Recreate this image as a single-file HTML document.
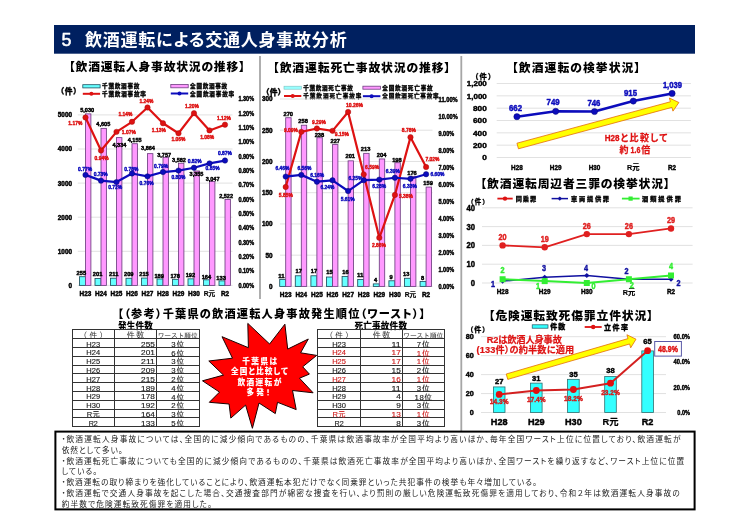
<!DOCTYPE html>
<html lang="ja"><head><meta charset="utf-8"><title>飲酒運転による交通人身事故分析</title>
<style>html,body{margin:0;padding:0;background:#fff;}body{width:750px;height:530px;overflow:hidden;}svg{display:block;}</style>
</head><body>
<svg width="750" height="530" viewBox="0 0 750 530">
<rect x="0" y="0" width="750" height="530" fill="#fff"/>
<rect x="54.00" y="25.00" width="641.00" height="28.70" fill="#002060" stroke="none" stroke-width="0"/>
<text x="61.40" y="46.01" font-size="17.9" fill="#fff" text-anchor="start" font-weight="normal" font-family="'Liberation Sans',sans-serif" stroke="#fff" stroke-width="0.45" stroke-linejoin="round">5</text>
<text x="85.05" y="45.86" font-size="17.0" fill="#fff" text-anchor="start" font-weight="bold" font-family="'Liberation Sans','Noto Sans CJK JP',sans-serif" textLength="261.58" lengthAdjust="spacing" style="font-feature-settings:'palt'">飲酒運転による交通人身事故分析</text>
<line x1="260.00" y1="56.00" x2="260.00" y2="299.00" stroke="#a6a6a6" stroke-width="1.8"/>
<line x1="461.30" y1="56.00" x2="461.30" y2="431.00" stroke="#a6a6a6" stroke-width="1.8"/>
<text x="68.88" y="71.18" font-size="11.8" fill="#000" text-anchor="start" font-weight="900" font-family="'Liberation Sans','Noto Sans CJK JP',sans-serif" textLength="176.07" lengthAdjust="spacing" style="font-feature-settings:'palt'">【飲酒運転人身事故状況の推移】</text>
<rect x="82.80" y="84.70" width="17.30" height="3.20" fill="#66ffff" stroke="#1f4f5f" stroke-width="0.8"/>
<text x="102.02" y="88.43" font-size="5.6" fill="#000" text-anchor="start" font-weight="900" font-family="'Liberation Sans','Noto Sans CJK JP',sans-serif" textLength="37.42" lengthAdjust="spacing" stroke="#000" stroke-width="0.3" stroke-linejoin="round" style="font-feature-settings:'palt'">千葉飲酒事故</text>
<line x1="82.80" y1="93.80" x2="100.10" y2="93.80" stroke="#de1212" stroke-width="2"/>
<circle cx="91.40" cy="93.80" r="2" fill="#de1212"/>
<text x="102.02" y="95.93" font-size="5.6" fill="#000" text-anchor="start" font-weight="900" font-family="'Liberation Sans','Noto Sans CJK JP',sans-serif" textLength="43.92" lengthAdjust="spacing" stroke="#000" stroke-width="0.3" stroke-linejoin="round" style="font-feature-settings:'palt'">千葉飲酒事故率</text>
<rect x="170.80" y="84.50" width="17.40" height="3.30" fill="#ff99ff" stroke="#6e3f80" stroke-width="0.8"/>
<text x="190.12" y="88.43" font-size="5.6" fill="#000" text-anchor="start" font-weight="900" font-family="'Liberation Sans','Noto Sans CJK JP',sans-serif" textLength="37.02" lengthAdjust="spacing" stroke="#000" stroke-width="0.3" stroke-linejoin="round" style="font-feature-settings:'palt'">全国飲酒事故</text>
<line x1="170.80" y1="93.50" x2="188.20" y2="93.50" stroke="#0c0cbc" stroke-width="2"/>
<circle cx="179.50" cy="93.50" r="2" fill="#0c0cbc"/>
<text x="190.12" y="95.63" font-size="5.6" fill="#000" text-anchor="start" font-weight="900" font-family="'Liberation Sans','Noto Sans CJK JP',sans-serif" textLength="44.02" lengthAdjust="spacing" stroke="#000" stroke-width="0.3" stroke-linejoin="round" style="font-feature-settings:'palt'">全国飲酒事故率</text>
<text x="60.00" y="93.76" font-size="7.8" fill="#000" text-anchor="start" font-weight="900" font-family="'Liberation Sans','Noto Sans CJK JP',sans-serif" textLength="17.29" lengthAdjust="spacing" stroke="#000" stroke-width="0.3" stroke-linejoin="round" style="font-feature-settings:'palt'">（件）</text>
<line x1="77.80" y1="285.40" x2="232.50" y2="285.40" stroke="#d9d9d9" stroke-width="0.8"/>
<text x="72.00" y="287.80" font-size="6.7" fill="#000" text-anchor="end" font-weight="bold" font-family="'Liberation Sans',sans-serif" textLength="3.55" lengthAdjust="spacingAndGlyphs" stroke="#000" stroke-width="0.45" stroke-linejoin="round">0</text>
<line x1="77.80" y1="251.30" x2="232.50" y2="251.30" stroke="#d9d9d9" stroke-width="0.8"/>
<text x="72.00" y="253.70" font-size="6.7" fill="#000" text-anchor="end" font-weight="bold" font-family="'Liberation Sans',sans-serif" textLength="14.20" lengthAdjust="spacingAndGlyphs" stroke="#000" stroke-width="0.45" stroke-linejoin="round">1000</text>
<line x1="77.80" y1="217.20" x2="232.50" y2="217.20" stroke="#d9d9d9" stroke-width="0.8"/>
<text x="72.00" y="219.60" font-size="6.7" fill="#000" text-anchor="end" font-weight="bold" font-family="'Liberation Sans',sans-serif" textLength="14.20" lengthAdjust="spacingAndGlyphs" stroke="#000" stroke-width="0.45" stroke-linejoin="round">2000</text>
<line x1="77.80" y1="183.10" x2="232.50" y2="183.10" stroke="#d9d9d9" stroke-width="0.8"/>
<text x="72.00" y="185.50" font-size="6.7" fill="#000" text-anchor="end" font-weight="bold" font-family="'Liberation Sans',sans-serif" textLength="14.20" lengthAdjust="spacingAndGlyphs" stroke="#000" stroke-width="0.45" stroke-linejoin="round">3000</text>
<line x1="77.80" y1="149.00" x2="232.50" y2="149.00" stroke="#d9d9d9" stroke-width="0.8"/>
<text x="72.00" y="151.40" font-size="6.7" fill="#000" text-anchor="end" font-weight="bold" font-family="'Liberation Sans',sans-serif" textLength="14.20" lengthAdjust="spacingAndGlyphs" stroke="#000" stroke-width="0.45" stroke-linejoin="round">4000</text>
<line x1="77.80" y1="114.90" x2="232.50" y2="114.90" stroke="#d9d9d9" stroke-width="0.8"/>
<text x="72.00" y="117.30" font-size="6.7" fill="#000" text-anchor="end" font-weight="bold" font-family="'Liberation Sans',sans-serif" textLength="14.20" lengthAdjust="spacingAndGlyphs" stroke="#000" stroke-width="0.45" stroke-linejoin="round">5000</text>
<text x="238.40" y="287.80" font-size="6.7" fill="#000" text-anchor="start" font-weight="bold" font-family="'Liberation Sans',sans-serif" textLength="15.68" lengthAdjust="spacingAndGlyphs" stroke="#000" stroke-width="0.45" stroke-linejoin="round">0.00%</text>
<text x="238.40" y="273.45" font-size="6.7" fill="#000" text-anchor="start" font-weight="bold" font-family="'Liberation Sans',sans-serif" textLength="15.68" lengthAdjust="spacingAndGlyphs" stroke="#000" stroke-width="0.45" stroke-linejoin="round">0.10%</text>
<text x="238.40" y="259.10" font-size="6.7" fill="#000" text-anchor="start" font-weight="bold" font-family="'Liberation Sans',sans-serif" textLength="15.68" lengthAdjust="spacingAndGlyphs" stroke="#000" stroke-width="0.45" stroke-linejoin="round">0.20%</text>
<text x="238.40" y="244.75" font-size="6.7" fill="#000" text-anchor="start" font-weight="bold" font-family="'Liberation Sans',sans-serif" textLength="15.68" lengthAdjust="spacingAndGlyphs" stroke="#000" stroke-width="0.45" stroke-linejoin="round">0.30%</text>
<text x="238.40" y="230.40" font-size="6.7" fill="#000" text-anchor="start" font-weight="bold" font-family="'Liberation Sans',sans-serif" textLength="15.68" lengthAdjust="spacingAndGlyphs" stroke="#000" stroke-width="0.45" stroke-linejoin="round">0.40%</text>
<text x="238.40" y="216.05" font-size="6.7" fill="#000" text-anchor="start" font-weight="bold" font-family="'Liberation Sans',sans-serif" textLength="15.68" lengthAdjust="spacingAndGlyphs" stroke="#000" stroke-width="0.45" stroke-linejoin="round">0.50%</text>
<text x="238.40" y="201.70" font-size="6.7" fill="#000" text-anchor="start" font-weight="bold" font-family="'Liberation Sans',sans-serif" textLength="15.68" lengthAdjust="spacingAndGlyphs" stroke="#000" stroke-width="0.45" stroke-linejoin="round">0.60%</text>
<text x="238.40" y="187.35" font-size="6.7" fill="#000" text-anchor="start" font-weight="bold" font-family="'Liberation Sans',sans-serif" textLength="15.68" lengthAdjust="spacingAndGlyphs" stroke="#000" stroke-width="0.45" stroke-linejoin="round">0.70%</text>
<text x="238.40" y="173.00" font-size="6.7" fill="#000" text-anchor="start" font-weight="bold" font-family="'Liberation Sans',sans-serif" textLength="15.68" lengthAdjust="spacingAndGlyphs" stroke="#000" stroke-width="0.45" stroke-linejoin="round">0.80%</text>
<text x="238.40" y="158.65" font-size="6.7" fill="#000" text-anchor="start" font-weight="bold" font-family="'Liberation Sans',sans-serif" textLength="15.68" lengthAdjust="spacingAndGlyphs" stroke="#000" stroke-width="0.45" stroke-linejoin="round">0.90%</text>
<text x="238.40" y="144.30" font-size="6.7" fill="#000" text-anchor="start" font-weight="bold" font-family="'Liberation Sans',sans-serif" textLength="15.68" lengthAdjust="spacingAndGlyphs" stroke="#000" stroke-width="0.45" stroke-linejoin="round">1.00%</text>
<text x="238.40" y="129.95" font-size="6.7" fill="#000" text-anchor="start" font-weight="bold" font-family="'Liberation Sans',sans-serif" textLength="15.68" lengthAdjust="spacingAndGlyphs" stroke="#000" stroke-width="0.45" stroke-linejoin="round">1.10%</text>
<text x="238.40" y="115.60" font-size="6.7" fill="#000" text-anchor="start" font-weight="bold" font-family="'Liberation Sans',sans-serif" textLength="15.68" lengthAdjust="spacingAndGlyphs" stroke="#000" stroke-width="0.45" stroke-linejoin="round">1.20%</text>
<text x="238.40" y="101.25" font-size="6.7" fill="#000" text-anchor="start" font-weight="bold" font-family="'Liberation Sans',sans-serif" textLength="15.68" lengthAdjust="spacingAndGlyphs" stroke="#000" stroke-width="0.45" stroke-linejoin="round">1.30%</text>
<rect x="79.50" y="276.70" width="6.00" height="8.70" fill="#66ffff" stroke="#1f4f5f" stroke-width="0.85"/>
<rect x="85.50" y="113.88" width="5.40" height="171.52" fill="#ff99ff" stroke="#6e3f80" stroke-width="0.85"/>
<text x="85.50" y="296.00" font-size="6.7" fill="#000" text-anchor="middle" font-weight="bold" font-family="'Liberation Sans',sans-serif" textLength="11.79" lengthAdjust="spacingAndGlyphs" stroke="#000" stroke-width="0.45" stroke-linejoin="round">H23</text>
<rect x="95.00" y="278.55" width="6.00" height="6.85" fill="#66ffff" stroke="#1f4f5f" stroke-width="0.85"/>
<rect x="101.00" y="128.37" width="5.40" height="157.03" fill="#ff99ff" stroke="#6e3f80" stroke-width="0.85"/>
<text x="101.00" y="296.00" font-size="6.7" fill="#000" text-anchor="middle" font-weight="bold" font-family="'Liberation Sans',sans-serif" textLength="11.79" lengthAdjust="spacingAndGlyphs" stroke="#000" stroke-width="0.45" stroke-linejoin="round">H24</text>
<rect x="110.50" y="278.20" width="6.00" height="7.20" fill="#66ffff" stroke="#1f4f5f" stroke-width="0.85"/>
<rect x="116.50" y="137.61" width="5.40" height="147.79" fill="#ff99ff" stroke="#6e3f80" stroke-width="0.85"/>
<text x="116.50" y="296.00" font-size="6.7" fill="#000" text-anchor="middle" font-weight="bold" font-family="'Liberation Sans',sans-serif" textLength="11.79" lengthAdjust="spacingAndGlyphs" stroke="#000" stroke-width="0.45" stroke-linejoin="round">H25</text>
<rect x="126.00" y="278.27" width="6.00" height="7.13" fill="#66ffff" stroke="#1f4f5f" stroke-width="0.85"/>
<rect x="132.00" y="143.71" width="5.40" height="141.69" fill="#ff99ff" stroke="#6e3f80" stroke-width="0.85"/>
<text x="132.00" y="296.00" font-size="6.7" fill="#000" text-anchor="middle" font-weight="bold" font-family="'Liberation Sans',sans-serif" textLength="11.79" lengthAdjust="spacingAndGlyphs" stroke="#000" stroke-width="0.45" stroke-linejoin="round">H26</text>
<rect x="141.50" y="278.07" width="6.00" height="7.33" fill="#66ffff" stroke="#1f4f5f" stroke-width="0.85"/>
<rect x="147.50" y="153.64" width="5.40" height="131.76" fill="#ff99ff" stroke="#6e3f80" stroke-width="0.85"/>
<text x="147.50" y="296.00" font-size="6.7" fill="#000" text-anchor="middle" font-weight="bold" font-family="'Liberation Sans',sans-serif" textLength="11.79" lengthAdjust="spacingAndGlyphs" stroke="#000" stroke-width="0.45" stroke-linejoin="round">H27</text>
<rect x="157.00" y="278.96" width="6.00" height="6.44" fill="#66ffff" stroke="#1f4f5f" stroke-width="0.85"/>
<rect x="163.00" y="157.29" width="5.40" height="128.11" fill="#ff99ff" stroke="#6e3f80" stroke-width="0.85"/>
<text x="163.00" y="296.00" font-size="6.7" fill="#000" text-anchor="middle" font-weight="bold" font-family="'Liberation Sans',sans-serif" textLength="11.79" lengthAdjust="spacingAndGlyphs" stroke="#000" stroke-width="0.45" stroke-linejoin="round">H28</text>
<rect x="172.50" y="279.33" width="6.00" height="6.07" fill="#66ffff" stroke="#1f4f5f" stroke-width="0.85"/>
<rect x="178.50" y="163.25" width="5.40" height="122.15" fill="#ff99ff" stroke="#6e3f80" stroke-width="0.85"/>
<text x="178.50" y="296.00" font-size="6.7" fill="#000" text-anchor="middle" font-weight="bold" font-family="'Liberation Sans',sans-serif" textLength="11.79" lengthAdjust="spacingAndGlyphs" stroke="#000" stroke-width="0.45" stroke-linejoin="round">H29</text>
<rect x="188.00" y="278.85" width="6.00" height="6.55" fill="#66ffff" stroke="#1f4f5f" stroke-width="0.85"/>
<rect x="194.00" y="170.99" width="5.40" height="114.41" fill="#ff99ff" stroke="#6e3f80" stroke-width="0.85"/>
<text x="194.00" y="296.00" font-size="6.7" fill="#000" text-anchor="middle" font-weight="bold" font-family="'Liberation Sans',sans-serif" textLength="11.79" lengthAdjust="spacingAndGlyphs" stroke="#000" stroke-width="0.45" stroke-linejoin="round">H30</text>
<rect x="203.50" y="279.81" width="6.00" height="5.59" fill="#66ffff" stroke="#1f4f5f" stroke-width="0.85"/>
<rect x="209.50" y="181.50" width="5.40" height="103.90" fill="#ff99ff" stroke="#6e3f80" stroke-width="0.85"/>
<text x="209.50" y="296.15" font-size="6.7" fill="#000" text-anchor="middle" font-weight="bold" font-family="'Liberation Sans','Noto Sans CJK JP',sans-serif" textLength="11.50" lengthAdjust="spacingAndGlyphs" stroke="#000" stroke-width="0.2" stroke-linejoin="round">R元</text>
<rect x="219.00" y="280.86" width="6.00" height="4.54" fill="#66ffff" stroke="#1f4f5f" stroke-width="0.85"/>
<rect x="225.00" y="199.40" width="5.40" height="86.00" fill="#ff99ff" stroke="#6e3f80" stroke-width="0.85"/>
<text x="225.00" y="296.00" font-size="6.7" fill="#000" text-anchor="middle" font-weight="bold" font-family="'Liberation Sans',sans-serif" textLength="8.24" lengthAdjust="spacingAndGlyphs" stroke="#000" stroke-width="0.45" stroke-linejoin="round">R2</text>
<text x="81.35" y="275.15" font-size="6.0" fill="#000" text-anchor="middle" font-weight="bold" font-family="'Liberation Sans',sans-serif" textLength="9.54" lengthAdjust="spacingAndGlyphs" stroke="#000" stroke-width="0.45" stroke-linejoin="round">255</text>
<text x="97.60" y="276.15" font-size="6.0" fill="#000" text-anchor="middle" font-weight="bold" font-family="'Liberation Sans',sans-serif" textLength="9.54" lengthAdjust="spacingAndGlyphs" stroke="#000" stroke-width="0.45" stroke-linejoin="round">201</text>
<text x="113.70" y="276.15" font-size="6.0" fill="#000" text-anchor="middle" font-weight="bold" font-family="'Liberation Sans',sans-serif" textLength="9.54" lengthAdjust="spacingAndGlyphs" stroke="#000" stroke-width="0.45" stroke-linejoin="round">211</text>
<text x="128.80" y="276.15" font-size="6.0" fill="#000" text-anchor="middle" font-weight="bold" font-family="'Liberation Sans',sans-serif" textLength="9.54" lengthAdjust="spacingAndGlyphs" stroke="#000" stroke-width="0.45" stroke-linejoin="round">209</text>
<text x="144.00" y="276.15" font-size="6.0" fill="#000" text-anchor="middle" font-weight="bold" font-family="'Liberation Sans',sans-serif" textLength="9.54" lengthAdjust="spacingAndGlyphs" stroke="#000" stroke-width="0.45" stroke-linejoin="round">215</text>
<text x="159.20" y="277.75" font-size="6.0" fill="#000" text-anchor="middle" font-weight="bold" font-family="'Liberation Sans',sans-serif" textLength="9.54" lengthAdjust="spacingAndGlyphs" stroke="#000" stroke-width="0.45" stroke-linejoin="round">189</text>
<text x="175.20" y="278.15" font-size="6.0" fill="#000" text-anchor="middle" font-weight="bold" font-family="'Liberation Sans',sans-serif" textLength="9.54" lengthAdjust="spacingAndGlyphs" stroke="#000" stroke-width="0.45" stroke-linejoin="round">178</text>
<text x="190.40" y="276.65" font-size="6.0" fill="#000" text-anchor="middle" font-weight="bold" font-family="'Liberation Sans',sans-serif" textLength="9.54" lengthAdjust="spacingAndGlyphs" stroke="#000" stroke-width="0.45" stroke-linejoin="round">192</text>
<text x="206.40" y="279.15" font-size="6.0" fill="#000" text-anchor="middle" font-weight="bold" font-family="'Liberation Sans',sans-serif" textLength="9.54" lengthAdjust="spacingAndGlyphs" stroke="#000" stroke-width="0.45" stroke-linejoin="round">164</text>
<text x="221.10" y="280.15" font-size="6.0" fill="#000" text-anchor="middle" font-weight="bold" font-family="'Liberation Sans',sans-serif" textLength="9.54" lengthAdjust="spacingAndGlyphs" stroke="#000" stroke-width="0.45" stroke-linejoin="round">133</text>
<polyline points="85.50,117.50 101.00,150.51 116.50,131.85 132.00,121.81 147.50,107.46 163.00,123.25 178.50,133.29 194.00,113.20 209.50,130.42 225.00,124.68" fill="none" stroke="#de1212" stroke-width="2.2" stroke-linejoin="round"/>
<circle cx="85.50" cy="117.50" r="2.7" fill="#de1212" stroke="#a00c0c" stroke-width="0.45"/>
<circle cx="101.00" cy="150.51" r="2.7" fill="#de1212" stroke="#a00c0c" stroke-width="0.45"/>
<circle cx="116.50" cy="131.85" r="2.7" fill="#de1212" stroke="#a00c0c" stroke-width="0.45"/>
<circle cx="132.00" cy="121.81" r="2.7" fill="#de1212" stroke="#a00c0c" stroke-width="0.45"/>
<circle cx="147.50" cy="107.46" r="2.7" fill="#de1212" stroke="#a00c0c" stroke-width="0.45"/>
<circle cx="163.00" cy="123.25" r="2.7" fill="#de1212" stroke="#a00c0c" stroke-width="0.45"/>
<circle cx="178.50" cy="133.29" r="2.7" fill="#de1212" stroke="#a00c0c" stroke-width="0.45"/>
<circle cx="194.00" cy="113.20" r="2.7" fill="#de1212" stroke="#a00c0c" stroke-width="0.45"/>
<circle cx="209.50" cy="130.42" r="2.7" fill="#de1212" stroke="#a00c0c" stroke-width="0.45"/>
<circle cx="225.00" cy="124.68" r="2.7" fill="#de1212" stroke="#a00c0c" stroke-width="0.45"/>
<polyline points="85.50,174.90 101.00,180.64 116.50,182.08 132.00,173.47 147.50,176.34 163.00,172.03 178.50,170.60 194.00,167.73 209.50,163.42 225.00,160.55" fill="none" stroke="#0c0cbc" stroke-width="2.2" stroke-linejoin="round"/>
<circle cx="85.50" cy="174.90" r="2.7" fill="#0c0cbc" stroke="#06066e" stroke-width="0.45"/>
<circle cx="101.00" cy="180.64" r="2.7" fill="#0c0cbc" stroke="#06066e" stroke-width="0.45"/>
<circle cx="116.50" cy="182.08" r="2.7" fill="#0c0cbc" stroke="#06066e" stroke-width="0.45"/>
<circle cx="132.00" cy="173.47" r="2.7" fill="#0c0cbc" stroke="#06066e" stroke-width="0.45"/>
<circle cx="147.50" cy="176.34" r="2.7" fill="#0c0cbc" stroke="#06066e" stroke-width="0.45"/>
<circle cx="163.00" cy="172.03" r="2.7" fill="#0c0cbc" stroke="#06066e" stroke-width="0.45"/>
<circle cx="178.50" cy="170.60" r="2.7" fill="#0c0cbc" stroke="#06066e" stroke-width="0.45"/>
<circle cx="194.00" cy="167.73" r="2.7" fill="#0c0cbc" stroke="#06066e" stroke-width="0.45"/>
<circle cx="209.50" cy="163.42" r="2.7" fill="#0c0cbc" stroke="#06066e" stroke-width="0.45"/>
<circle cx="225.00" cy="160.55" r="2.7" fill="#0c0cbc" stroke="#06066e" stroke-width="0.45"/>
<text x="87.20" y="112.35" font-size="6.0" fill="#000" text-anchor="middle" font-weight="bold" font-family="'Liberation Sans',sans-serif" textLength="13.92" lengthAdjust="spacingAndGlyphs" stroke="#000" stroke-width="0.45" stroke-linejoin="round">5,030</text>
<text x="103.30" y="125.95" font-size="6.0" fill="#000" text-anchor="middle" font-weight="bold" font-family="'Liberation Sans',sans-serif" textLength="13.92" lengthAdjust="spacingAndGlyphs" stroke="#000" stroke-width="0.45" stroke-linejoin="round">4,605</text>
<text x="119.40" y="147.15" font-size="6.0" fill="#000" text-anchor="middle" font-weight="bold" font-family="'Liberation Sans',sans-serif" textLength="13.92" lengthAdjust="spacingAndGlyphs" stroke="#000" stroke-width="0.45" stroke-linejoin="round">4,334</text>
<text x="134.70" y="141.55" font-size="6.0" fill="#000" text-anchor="middle" font-weight="bold" font-family="'Liberation Sans',sans-serif" textLength="13.92" lengthAdjust="spacingAndGlyphs" stroke="#000" stroke-width="0.45" stroke-linejoin="round">4,155</text>
<text x="148.00" y="150.35" font-size="6.0" fill="#000" text-anchor="middle" font-weight="bold" font-family="'Liberation Sans',sans-serif" textLength="13.92" lengthAdjust="spacingAndGlyphs" stroke="#000" stroke-width="0.45" stroke-linejoin="round">3,864</text>
<text x="164.20" y="157.15" font-size="6.0" fill="#000" text-anchor="middle" font-weight="bold" font-family="'Liberation Sans',sans-serif" textLength="13.92" lengthAdjust="spacingAndGlyphs" stroke="#000" stroke-width="0.45" stroke-linejoin="round">3,757</text>
<text x="179.00" y="162.05" font-size="6.0" fill="#000" text-anchor="middle" font-weight="bold" font-family="'Liberation Sans',sans-serif" textLength="13.92" lengthAdjust="spacingAndGlyphs" stroke="#000" stroke-width="0.45" stroke-linejoin="round">3,582</text>
<text x="196.50" y="176.05" font-size="6.0" fill="#000" text-anchor="middle" font-weight="bold" font-family="'Liberation Sans',sans-serif" textLength="13.92" lengthAdjust="spacingAndGlyphs" stroke="#000" stroke-width="0.45" stroke-linejoin="round">3,355</text>
<text x="212.60" y="181.35" font-size="6.0" fill="#000" text-anchor="middle" font-weight="bold" font-family="'Liberation Sans',sans-serif" textLength="13.92" lengthAdjust="spacingAndGlyphs" stroke="#000" stroke-width="0.45" stroke-linejoin="round">3,047</text>
<text x="226.10" y="197.95" font-size="6.0" fill="#000" text-anchor="middle" font-weight="bold" font-family="'Liberation Sans',sans-serif" textLength="13.92" lengthAdjust="spacingAndGlyphs" stroke="#000" stroke-width="0.45" stroke-linejoin="round">2,522</text>
<text x="75.30" y="125.05" font-size="6.0" fill="#de1212" text-anchor="middle" font-weight="bold" font-family="'Liberation Sans',sans-serif" textLength="14.04" lengthAdjust="spacingAndGlyphs" stroke="#de1212" stroke-width="0.45" stroke-linejoin="round">1.17%</text>
<text x="101.60" y="159.85" font-size="6.0" fill="#de1212" text-anchor="middle" font-weight="bold" font-family="'Liberation Sans',sans-serif" textLength="14.04" lengthAdjust="spacingAndGlyphs" stroke="#de1212" stroke-width="0.45" stroke-linejoin="round">0.94%</text>
<text x="128.80" y="133.85" font-size="6.0" fill="#de1212" text-anchor="middle" font-weight="bold" font-family="'Liberation Sans',sans-serif" textLength="14.04" lengthAdjust="spacingAndGlyphs" stroke="#de1212" stroke-width="0.45" stroke-linejoin="round">1.07%</text>
<text x="125.40" y="115.75" font-size="6.0" fill="#de1212" text-anchor="middle" font-weight="bold" font-family="'Liberation Sans',sans-serif" textLength="14.04" lengthAdjust="spacingAndGlyphs" stroke="#de1212" stroke-width="0.45" stroke-linejoin="round">1.14%</text>
<text x="146.50" y="103.45" font-size="6.0" fill="#de1212" text-anchor="middle" font-weight="bold" font-family="'Liberation Sans',sans-serif" textLength="14.04" lengthAdjust="spacingAndGlyphs" stroke="#de1212" stroke-width="0.45" stroke-linejoin="round">1.24%</text>
<text x="158.80" y="131.55" font-size="6.0" fill="#de1212" text-anchor="middle" font-weight="bold" font-family="'Liberation Sans',sans-serif" textLength="14.04" lengthAdjust="spacingAndGlyphs" stroke="#de1212" stroke-width="0.45" stroke-linejoin="round">1.13%</text>
<text x="178.50" y="141.05" font-size="6.0" fill="#de1212" text-anchor="middle" font-weight="bold" font-family="'Liberation Sans',sans-serif" textLength="14.04" lengthAdjust="spacingAndGlyphs" stroke="#de1212" stroke-width="0.45" stroke-linejoin="round">1.06%</text>
<text x="192.00" y="107.55" font-size="6.0" fill="#de1212" text-anchor="middle" font-weight="bold" font-family="'Liberation Sans',sans-serif" textLength="14.04" lengthAdjust="spacingAndGlyphs" stroke="#de1212" stroke-width="0.45" stroke-linejoin="round">1.20%</text>
<text x="207.20" y="138.95" font-size="6.0" fill="#de1212" text-anchor="middle" font-weight="bold" font-family="'Liberation Sans',sans-serif" textLength="14.04" lengthAdjust="spacingAndGlyphs" stroke="#de1212" stroke-width="0.45" stroke-linejoin="round">1.08%</text>
<text x="223.90" y="119.55" font-size="6.0" fill="#de1212" text-anchor="middle" font-weight="bold" font-family="'Liberation Sans',sans-serif" textLength="14.04" lengthAdjust="spacingAndGlyphs" stroke="#de1212" stroke-width="0.45" stroke-linejoin="round">1.12%</text>
<text x="85.10" y="170.95" font-size="6.0" fill="#0c0cbc" text-anchor="middle" font-weight="bold" font-family="'Liberation Sans',sans-serif" textLength="14.04" lengthAdjust="spacingAndGlyphs" stroke="#0c0cbc" stroke-width="0.45" stroke-linejoin="round">0.77%</text>
<text x="100.70" y="176.05" font-size="6.0" fill="#0c0cbc" text-anchor="middle" font-weight="bold" font-family="'Liberation Sans',sans-serif" textLength="14.04" lengthAdjust="spacingAndGlyphs" stroke="#0c0cbc" stroke-width="0.45" stroke-linejoin="round">0.73%</text>
<text x="115.20" y="189.05" font-size="6.0" fill="#0c0cbc" text-anchor="middle" font-weight="bold" font-family="'Liberation Sans',sans-serif" textLength="14.04" lengthAdjust="spacingAndGlyphs" stroke="#0c0cbc" stroke-width="0.45" stroke-linejoin="round">0.72%</text>
<text x="131.30" y="170.95" font-size="6.0" fill="#0c0cbc" text-anchor="middle" font-weight="bold" font-family="'Liberation Sans',sans-serif" textLength="14.04" lengthAdjust="spacingAndGlyphs" stroke="#0c0cbc" stroke-width="0.45" stroke-linejoin="round">0.78%</text>
<text x="146.60" y="185.35" font-size="6.0" fill="#0c0cbc" text-anchor="middle" font-weight="bold" font-family="'Liberation Sans',sans-serif" textLength="14.04" lengthAdjust="spacingAndGlyphs" stroke="#0c0cbc" stroke-width="0.45" stroke-linejoin="round">0.76%</text>
<text x="161.10" y="167.55" font-size="6.0" fill="#0c0cbc" text-anchor="middle" font-weight="bold" font-family="'Liberation Sans',sans-serif" textLength="14.04" lengthAdjust="spacingAndGlyphs" stroke="#0c0cbc" stroke-width="0.45" stroke-linejoin="round">0.79%</text>
<text x="178.50" y="178.65" font-size="6.0" fill="#0c0cbc" text-anchor="middle" font-weight="bold" font-family="'Liberation Sans',sans-serif" textLength="14.04" lengthAdjust="spacingAndGlyphs" stroke="#0c0cbc" stroke-width="0.45" stroke-linejoin="round">0.80%</text>
<text x="194.70" y="163.15" font-size="6.0" fill="#0c0cbc" text-anchor="middle" font-weight="bold" font-family="'Liberation Sans',sans-serif" textLength="14.04" lengthAdjust="spacingAndGlyphs" stroke="#0c0cbc" stroke-width="0.45" stroke-linejoin="round">0.82%</text>
<text x="212.60" y="170.25" font-size="6.0" fill="#0c0cbc" text-anchor="middle" font-weight="bold" font-family="'Liberation Sans',sans-serif" textLength="14.04" lengthAdjust="spacingAndGlyphs" stroke="#0c0cbc" stroke-width="0.45" stroke-linejoin="round">0.85%</text>
<text x="225.00" y="155.35" font-size="6.0" fill="#0c0cbc" text-anchor="middle" font-weight="bold" font-family="'Liberation Sans',sans-serif" textLength="14.04" lengthAdjust="spacingAndGlyphs" stroke="#0c0cbc" stroke-width="0.45" stroke-linejoin="round">0.87%</text>
<text x="272.88" y="71.68" font-size="11.8" fill="#000" text-anchor="start" font-weight="900" font-family="'Liberation Sans','Noto Sans CJK JP',sans-serif" textLength="177.37" lengthAdjust="spacing" style="font-feature-settings:'palt'">【飲酒運転死亡事故状況の推移】</text>
<rect x="284.00" y="86.20" width="17.30" height="3.00" fill="#99ffff" stroke="#7fbfbf" stroke-width="0.6"/>
<text x="303.22" y="89.83" font-size="5.6" fill="#000" text-anchor="start" font-weight="900" font-family="'Liberation Sans','Noto Sans CJK JP',sans-serif" textLength="49.62" lengthAdjust="spacing" stroke="#000" stroke-width="0.3" stroke-linejoin="round" style="font-feature-settings:'palt'">千葉飲酒死亡事故</text>
<line x1="284.00" y1="96.00" x2="301.30" y2="96.00" stroke="#de1212" stroke-width="2"/>
<circle cx="292.70" cy="96.00" r="2" fill="#de1212"/>
<text x="303.22" y="98.13" font-size="5.6" fill="#000" text-anchor="start" font-weight="900" font-family="'Liberation Sans','Noto Sans CJK JP',sans-serif" textLength="58.22" lengthAdjust="spacing" stroke="#000" stroke-width="0.3" stroke-linejoin="round" style="font-feature-settings:'palt'">千葉飲酒死亡事故率</text>
<rect x="362.90" y="86.20" width="17.50" height="3.00" fill="#ff99ff" stroke="#6e3f80" stroke-width="0.8"/>
<text x="382.32" y="89.83" font-size="5.6" fill="#000" text-anchor="start" font-weight="900" font-family="'Liberation Sans','Noto Sans CJK JP',sans-serif" textLength="50.32" lengthAdjust="spacing" stroke="#000" stroke-width="0.3" stroke-linejoin="round" style="font-feature-settings:'palt'">全国飲酒死亡事故</text>
<line x1="362.90" y1="96.20" x2="380.40" y2="96.20" stroke="#0c0cbc" stroke-width="2"/>
<circle cx="371.60" cy="96.20" r="2" fill="#0c0cbc"/>
<text x="382.32" y="98.33" font-size="5.6" fill="#000" text-anchor="start" font-weight="900" font-family="'Liberation Sans','Noto Sans CJK JP',sans-serif" textLength="56.32" lengthAdjust="spacing" stroke="#000" stroke-width="0.3" stroke-linejoin="round" style="font-feature-settings:'palt'">全国飲酒死亡事故率</text>
<text x="265.30" y="94.56" font-size="7.8" fill="#000" text-anchor="start" font-weight="900" font-family="'Liberation Sans','Noto Sans CJK JP',sans-serif" textLength="16.49" lengthAdjust="spacing" stroke="#000" stroke-width="0.3" stroke-linejoin="round" style="font-feature-settings:'palt'">（件）</text>
<line x1="280.00" y1="286.40" x2="432.50" y2="286.40" stroke="#d9d9d9" stroke-width="0.8"/>
<text x="272.60" y="288.80" font-size="6.7" fill="#000" text-anchor="end" font-weight="bold" font-family="'Liberation Sans',sans-serif" textLength="3.55" lengthAdjust="spacingAndGlyphs" stroke="#000" stroke-width="0.45" stroke-linejoin="round">0</text>
<line x1="280.00" y1="255.16" x2="432.50" y2="255.16" stroke="#d9d9d9" stroke-width="0.8"/>
<text x="272.60" y="257.56" font-size="6.7" fill="#000" text-anchor="end" font-weight="bold" font-family="'Liberation Sans',sans-serif" textLength="7.10" lengthAdjust="spacingAndGlyphs" stroke="#000" stroke-width="0.45" stroke-linejoin="round">50</text>
<line x1="280.00" y1="223.93" x2="432.50" y2="223.93" stroke="#d9d9d9" stroke-width="0.8"/>
<text x="272.60" y="226.33" font-size="6.7" fill="#000" text-anchor="end" font-weight="bold" font-family="'Liberation Sans',sans-serif" textLength="10.65" lengthAdjust="spacingAndGlyphs" stroke="#000" stroke-width="0.45" stroke-linejoin="round">100</text>
<line x1="280.00" y1="192.69" x2="432.50" y2="192.69" stroke="#d9d9d9" stroke-width="0.8"/>
<text x="272.60" y="195.09" font-size="6.7" fill="#000" text-anchor="end" font-weight="bold" font-family="'Liberation Sans',sans-serif" textLength="10.65" lengthAdjust="spacingAndGlyphs" stroke="#000" stroke-width="0.45" stroke-linejoin="round">150</text>
<line x1="280.00" y1="161.46" x2="432.50" y2="161.46" stroke="#d9d9d9" stroke-width="0.8"/>
<text x="272.60" y="163.86" font-size="6.7" fill="#000" text-anchor="end" font-weight="bold" font-family="'Liberation Sans',sans-serif" textLength="10.65" lengthAdjust="spacingAndGlyphs" stroke="#000" stroke-width="0.45" stroke-linejoin="round">200</text>
<line x1="280.00" y1="130.22" x2="432.50" y2="130.22" stroke="#d9d9d9" stroke-width="0.8"/>
<text x="272.60" y="132.62" font-size="6.7" fill="#000" text-anchor="end" font-weight="bold" font-family="'Liberation Sans',sans-serif" textLength="10.65" lengthAdjust="spacingAndGlyphs" stroke="#000" stroke-width="0.45" stroke-linejoin="round">250</text>
<line x1="280.00" y1="98.99" x2="432.50" y2="98.99" stroke="#d9d9d9" stroke-width="0.8"/>
<text x="272.60" y="101.39" font-size="6.7" fill="#000" text-anchor="end" font-weight="bold" font-family="'Liberation Sans',sans-serif" textLength="10.65" lengthAdjust="spacingAndGlyphs" stroke="#000" stroke-width="0.45" stroke-linejoin="round">300</text>
<text x="438.50" y="288.80" font-size="6.7" fill="#000" text-anchor="start" font-weight="bold" font-family="'Liberation Sans',sans-serif" textLength="15.68" lengthAdjust="spacingAndGlyphs" stroke="#000" stroke-width="0.45" stroke-linejoin="round">0.00%</text>
<text x="438.50" y="271.80" font-size="6.7" fill="#000" text-anchor="start" font-weight="bold" font-family="'Liberation Sans',sans-serif" textLength="15.68" lengthAdjust="spacingAndGlyphs" stroke="#000" stroke-width="0.45" stroke-linejoin="round">1.00%</text>
<text x="438.50" y="254.80" font-size="6.7" fill="#000" text-anchor="start" font-weight="bold" font-family="'Liberation Sans',sans-serif" textLength="15.68" lengthAdjust="spacingAndGlyphs" stroke="#000" stroke-width="0.45" stroke-linejoin="round">2.00%</text>
<text x="438.50" y="237.80" font-size="6.7" fill="#000" text-anchor="start" font-weight="bold" font-family="'Liberation Sans',sans-serif" textLength="15.68" lengthAdjust="spacingAndGlyphs" stroke="#000" stroke-width="0.45" stroke-linejoin="round">3.00%</text>
<text x="438.50" y="220.80" font-size="6.7" fill="#000" text-anchor="start" font-weight="bold" font-family="'Liberation Sans',sans-serif" textLength="15.68" lengthAdjust="spacingAndGlyphs" stroke="#000" stroke-width="0.45" stroke-linejoin="round">4.00%</text>
<text x="438.50" y="203.80" font-size="6.7" fill="#000" text-anchor="start" font-weight="bold" font-family="'Liberation Sans',sans-serif" textLength="15.68" lengthAdjust="spacingAndGlyphs" stroke="#000" stroke-width="0.45" stroke-linejoin="round">5.00%</text>
<text x="438.50" y="186.80" font-size="6.7" fill="#000" text-anchor="start" font-weight="bold" font-family="'Liberation Sans',sans-serif" textLength="15.68" lengthAdjust="spacingAndGlyphs" stroke="#000" stroke-width="0.45" stroke-linejoin="round">6.00%</text>
<text x="438.50" y="169.80" font-size="6.7" fill="#000" text-anchor="start" font-weight="bold" font-family="'Liberation Sans',sans-serif" textLength="15.68" lengthAdjust="spacingAndGlyphs" stroke="#000" stroke-width="0.45" stroke-linejoin="round">7.00%</text>
<text x="438.50" y="152.80" font-size="6.7" fill="#000" text-anchor="start" font-weight="bold" font-family="'Liberation Sans',sans-serif" textLength="15.68" lengthAdjust="spacingAndGlyphs" stroke="#000" stroke-width="0.45" stroke-linejoin="round">8.00%</text>
<text x="438.50" y="135.80" font-size="6.7" fill="#000" text-anchor="start" font-weight="bold" font-family="'Liberation Sans',sans-serif" textLength="15.68" lengthAdjust="spacingAndGlyphs" stroke="#000" stroke-width="0.45" stroke-linejoin="round">9.00%</text>
<text x="438.50" y="118.80" font-size="6.7" fill="#000" text-anchor="start" font-weight="bold" font-family="'Liberation Sans',sans-serif" textLength="19.23" lengthAdjust="spacingAndGlyphs" stroke="#000" stroke-width="0.45" stroke-linejoin="round">10.00%</text>
<text x="438.50" y="101.80" font-size="6.7" fill="#000" text-anchor="start" font-weight="bold" font-family="'Liberation Sans',sans-serif" textLength="19.23" lengthAdjust="spacingAndGlyphs" stroke="#000" stroke-width="0.45" stroke-linejoin="round">11.00%</text>
<rect x="279.70" y="279.53" width="6.00" height="6.87" fill="#66ffff" stroke="#1f4f5f" stroke-width="0.85"/>
<rect x="285.70" y="117.73" width="5.40" height="168.67" fill="#ff99ff" stroke="#6e3f80" stroke-width="0.85"/>
<text x="285.70" y="297.20" font-size="6.7" fill="#000" text-anchor="middle" font-weight="bold" font-family="'Liberation Sans',sans-serif" textLength="11.79" lengthAdjust="spacingAndGlyphs" stroke="#000" stroke-width="0.45" stroke-linejoin="round">H23</text>
<text x="281.50" y="277.55" font-size="6.0" fill="#000" text-anchor="middle" font-weight="bold" font-family="'Liberation Sans',sans-serif" textLength="6.36" lengthAdjust="spacingAndGlyphs" stroke="#000" stroke-width="0.45" stroke-linejoin="round">11</text>
<rect x="295.30" y="275.78" width="6.00" height="10.62" fill="#66ffff" stroke="#1f4f5f" stroke-width="0.85"/>
<rect x="301.30" y="125.23" width="5.40" height="161.17" fill="#ff99ff" stroke="#6e3f80" stroke-width="0.85"/>
<text x="301.30" y="297.20" font-size="6.7" fill="#000" text-anchor="middle" font-weight="bold" font-family="'Liberation Sans',sans-serif" textLength="11.79" lengthAdjust="spacingAndGlyphs" stroke="#000" stroke-width="0.45" stroke-linejoin="round">H24</text>
<text x="298.70" y="273.35" font-size="6.0" fill="#000" text-anchor="middle" font-weight="bold" font-family="'Liberation Sans',sans-serif" textLength="6.36" lengthAdjust="spacingAndGlyphs" stroke="#000" stroke-width="0.45" stroke-linejoin="round">17</text>
<rect x="310.90" y="275.78" width="6.00" height="10.62" fill="#66ffff" stroke="#1f4f5f" stroke-width="0.85"/>
<rect x="316.90" y="137.72" width="5.40" height="148.68" fill="#ff99ff" stroke="#6e3f80" stroke-width="0.85"/>
<text x="316.90" y="297.20" font-size="6.7" fill="#000" text-anchor="middle" font-weight="bold" font-family="'Liberation Sans',sans-serif" textLength="11.79" lengthAdjust="spacingAndGlyphs" stroke="#000" stroke-width="0.45" stroke-linejoin="round">H25</text>
<text x="314.00" y="273.35" font-size="6.0" fill="#000" text-anchor="middle" font-weight="bold" font-family="'Liberation Sans',sans-serif" textLength="6.36" lengthAdjust="spacingAndGlyphs" stroke="#000" stroke-width="0.45" stroke-linejoin="round">17</text>
<rect x="326.50" y="277.03" width="6.00" height="9.37" fill="#66ffff" stroke="#1f4f5f" stroke-width="0.85"/>
<rect x="332.50" y="144.59" width="5.40" height="141.81" fill="#ff99ff" stroke="#6e3f80" stroke-width="0.85"/>
<text x="332.50" y="297.20" font-size="6.7" fill="#000" text-anchor="middle" font-weight="bold" font-family="'Liberation Sans',sans-serif" textLength="11.79" lengthAdjust="spacingAndGlyphs" stroke="#000" stroke-width="0.45" stroke-linejoin="round">H26</text>
<text x="329.50" y="274.15" font-size="6.0" fill="#000" text-anchor="middle" font-weight="bold" font-family="'Liberation Sans',sans-serif" textLength="6.36" lengthAdjust="spacingAndGlyphs" stroke="#000" stroke-width="0.45" stroke-linejoin="round">15</text>
<rect x="342.10" y="276.40" width="6.00" height="10.00" fill="#66ffff" stroke="#1f4f5f" stroke-width="0.85"/>
<rect x="348.10" y="160.84" width="5.40" height="125.56" fill="#ff99ff" stroke="#6e3f80" stroke-width="0.85"/>
<text x="348.10" y="297.20" font-size="6.7" fill="#000" text-anchor="middle" font-weight="bold" font-family="'Liberation Sans',sans-serif" textLength="11.79" lengthAdjust="spacingAndGlyphs" stroke="#000" stroke-width="0.45" stroke-linejoin="round">H27</text>
<text x="345.40" y="274.15" font-size="6.0" fill="#000" text-anchor="middle" font-weight="bold" font-family="'Liberation Sans',sans-serif" textLength="6.36" lengthAdjust="spacingAndGlyphs" stroke="#000" stroke-width="0.45" stroke-linejoin="round">16</text>
<rect x="357.70" y="279.53" width="6.00" height="6.87" fill="#66ffff" stroke="#1f4f5f" stroke-width="0.85"/>
<rect x="363.70" y="153.34" width="5.40" height="133.06" fill="#ff99ff" stroke="#6e3f80" stroke-width="0.85"/>
<text x="363.70" y="297.20" font-size="6.7" fill="#000" text-anchor="middle" font-weight="bold" font-family="'Liberation Sans',sans-serif" textLength="11.79" lengthAdjust="spacingAndGlyphs" stroke="#000" stroke-width="0.45" stroke-linejoin="round">H28</text>
<text x="360.30" y="277.15" font-size="6.0" fill="#000" text-anchor="middle" font-weight="bold" font-family="'Liberation Sans',sans-serif" textLength="6.36" lengthAdjust="spacingAndGlyphs" stroke="#000" stroke-width="0.45" stroke-linejoin="round">11</text>
<rect x="373.30" y="283.90" width="6.00" height="2.50" fill="#66ffff" stroke="#1f4f5f" stroke-width="0.85"/>
<rect x="379.30" y="158.96" width="5.40" height="127.44" fill="#ff99ff" stroke="#6e3f80" stroke-width="0.85"/>
<text x="379.30" y="297.20" font-size="6.7" fill="#000" text-anchor="middle" font-weight="bold" font-family="'Liberation Sans',sans-serif" textLength="11.79" lengthAdjust="spacingAndGlyphs" stroke="#000" stroke-width="0.45" stroke-linejoin="round">H29</text>
<text x="375.70" y="282.35" font-size="6.0" fill="#000" text-anchor="middle" font-weight="bold" font-family="'Liberation Sans',sans-serif" textLength="3.18" lengthAdjust="spacingAndGlyphs" stroke="#000" stroke-width="0.45" stroke-linejoin="round">4</text>
<rect x="388.90" y="280.78" width="6.00" height="5.62" fill="#66ffff" stroke="#1f4f5f" stroke-width="0.85"/>
<rect x="394.90" y="162.71" width="5.40" height="123.69" fill="#ff99ff" stroke="#6e3f80" stroke-width="0.85"/>
<text x="394.90" y="297.20" font-size="6.7" fill="#000" text-anchor="middle" font-weight="bold" font-family="'Liberation Sans',sans-serif" textLength="11.79" lengthAdjust="spacingAndGlyphs" stroke="#000" stroke-width="0.45" stroke-linejoin="round">H30</text>
<text x="391.10" y="278.65" font-size="6.0" fill="#000" text-anchor="middle" font-weight="bold" font-family="'Liberation Sans',sans-serif" textLength="3.18" lengthAdjust="spacingAndGlyphs" stroke="#000" stroke-width="0.45" stroke-linejoin="round">9</text>
<rect x="404.50" y="278.28" width="6.00" height="8.12" fill="#66ffff" stroke="#1f4f5f" stroke-width="0.85"/>
<rect x="410.50" y="176.45" width="5.40" height="109.95" fill="#ff99ff" stroke="#6e3f80" stroke-width="0.85"/>
<text x="410.50" y="297.35" font-size="6.7" fill="#000" text-anchor="middle" font-weight="bold" font-family="'Liberation Sans','Noto Sans CJK JP',sans-serif" textLength="11.50" lengthAdjust="spacingAndGlyphs" stroke="#000" stroke-width="0.2" stroke-linejoin="round">R元</text>
<text x="406.20" y="275.85" font-size="6.0" fill="#000" text-anchor="middle" font-weight="bold" font-family="'Liberation Sans',sans-serif" textLength="6.36" lengthAdjust="spacingAndGlyphs" stroke="#000" stroke-width="0.45" stroke-linejoin="round">13</text>
<rect x="420.10" y="281.40" width="6.00" height="5.00" fill="#66ffff" stroke="#1f4f5f" stroke-width="0.85"/>
<rect x="426.10" y="187.07" width="5.40" height="99.33" fill="#ff99ff" stroke="#6e3f80" stroke-width="0.85"/>
<text x="426.10" y="297.20" font-size="6.7" fill="#000" text-anchor="middle" font-weight="bold" font-family="'Liberation Sans',sans-serif" textLength="8.24" lengthAdjust="spacingAndGlyphs" stroke="#000" stroke-width="0.45" stroke-linejoin="round">R2</text>
<text x="422.50" y="279.65" font-size="6.0" fill="#000" text-anchor="middle" font-weight="bold" font-family="'Liberation Sans',sans-serif" textLength="3.18" lengthAdjust="spacingAndGlyphs" stroke="#000" stroke-width="0.45" stroke-linejoin="round">8</text>
<polyline points="285.70,186.95 301.30,131.87 316.90,128.47 332.50,130.85 348.10,111.98 363.70,174.37 379.30,237.78 394.90,194.94 410.50,137.14 426.10,167.06" fill="none" stroke="#de1212" stroke-width="2.2" stroke-linejoin="round"/>
<circle cx="285.70" cy="186.95" r="2.7" fill="#de1212" stroke="#a00c0c" stroke-width="0.45"/>
<circle cx="301.30" cy="131.87" r="2.7" fill="#de1212" stroke="#a00c0c" stroke-width="0.45"/>
<circle cx="316.90" cy="128.47" r="2.7" fill="#de1212" stroke="#a00c0c" stroke-width="0.45"/>
<circle cx="332.50" cy="130.85" r="2.7" fill="#de1212" stroke="#a00c0c" stroke-width="0.45"/>
<circle cx="348.10" cy="111.98" r="2.7" fill="#de1212" stroke="#a00c0c" stroke-width="0.45"/>
<circle cx="363.70" cy="174.37" r="2.7" fill="#de1212" stroke="#a00c0c" stroke-width="0.45"/>
<circle cx="379.30" cy="237.78" r="2.7" fill="#de1212" stroke="#a00c0c" stroke-width="0.45"/>
<circle cx="394.90" cy="194.94" r="2.7" fill="#de1212" stroke="#a00c0c" stroke-width="0.45"/>
<circle cx="410.50" cy="137.14" r="2.7" fill="#de1212" stroke="#a00c0c" stroke-width="0.45"/>
<circle cx="426.10" cy="167.06" r="2.7" fill="#de1212" stroke="#a00c0c" stroke-width="0.45"/>
<polyline points="285.70,176.58 301.30,174.88 316.90,181.68 332.50,180.32 348.10,191.03 363.70,180.15 379.30,179.64 394.90,177.77 410.50,178.79 426.10,174.20" fill="none" stroke="#0c0cbc" stroke-width="2.2" stroke-linejoin="round"/>
<circle cx="285.70" cy="176.58" r="2.7" fill="#0c0cbc" stroke="#06066e" stroke-width="0.45"/>
<circle cx="301.30" cy="174.88" r="2.7" fill="#0c0cbc" stroke="#06066e" stroke-width="0.45"/>
<circle cx="316.90" cy="181.68" r="2.7" fill="#0c0cbc" stroke="#06066e" stroke-width="0.45"/>
<circle cx="332.50" cy="180.32" r="2.7" fill="#0c0cbc" stroke="#06066e" stroke-width="0.45"/>
<circle cx="348.10" cy="191.03" r="2.7" fill="#0c0cbc" stroke="#06066e" stroke-width="0.45"/>
<circle cx="363.70" cy="180.15" r="2.7" fill="#0c0cbc" stroke="#06066e" stroke-width="0.45"/>
<circle cx="379.30" cy="179.64" r="2.7" fill="#0c0cbc" stroke="#06066e" stroke-width="0.45"/>
<circle cx="394.90" cy="177.77" r="2.7" fill="#0c0cbc" stroke="#06066e" stroke-width="0.45"/>
<circle cx="410.50" cy="178.79" r="2.7" fill="#0c0cbc" stroke="#06066e" stroke-width="0.45"/>
<circle cx="426.10" cy="174.20" r="2.7" fill="#0c0cbc" stroke="#06066e" stroke-width="0.45"/>
<text x="288.30" y="115.85" font-size="6.0" fill="#000" text-anchor="middle" font-weight="bold" font-family="'Liberation Sans',sans-serif" textLength="9.54" lengthAdjust="spacingAndGlyphs" stroke="#000" stroke-width="0.45" stroke-linejoin="round">270</text>
<text x="303.10" y="122.95" font-size="6.0" fill="#000" text-anchor="middle" font-weight="bold" font-family="'Liberation Sans',sans-serif" textLength="9.54" lengthAdjust="spacingAndGlyphs" stroke="#000" stroke-width="0.45" stroke-linejoin="round">258</text>
<text x="319.40" y="136.55" font-size="6.0" fill="#000" text-anchor="middle" font-weight="bold" font-family="'Liberation Sans',sans-serif" textLength="9.54" lengthAdjust="spacingAndGlyphs" stroke="#000" stroke-width="0.45" stroke-linejoin="round">238</text>
<text x="335.30" y="142.55" font-size="6.0" fill="#000" text-anchor="middle" font-weight="bold" font-family="'Liberation Sans',sans-serif" textLength="9.54" lengthAdjust="spacingAndGlyphs" stroke="#000" stroke-width="0.45" stroke-linejoin="round">227</text>
<text x="350.30" y="158.35" font-size="6.0" fill="#000" text-anchor="middle" font-weight="bold" font-family="'Liberation Sans',sans-serif" textLength="9.54" lengthAdjust="spacingAndGlyphs" stroke="#000" stroke-width="0.45" stroke-linejoin="round">201</text>
<text x="365.60" y="151.35" font-size="6.0" fill="#000" text-anchor="middle" font-weight="bold" font-family="'Liberation Sans',sans-serif" textLength="9.54" lengthAdjust="spacingAndGlyphs" stroke="#000" stroke-width="0.45" stroke-linejoin="round">213</text>
<text x="381.60" y="156.95" font-size="6.0" fill="#000" text-anchor="middle" font-weight="bold" font-family="'Liberation Sans',sans-serif" textLength="9.54" lengthAdjust="spacingAndGlyphs" stroke="#000" stroke-width="0.45" stroke-linejoin="round">204</text>
<text x="396.90" y="161.55" font-size="6.0" fill="#000" text-anchor="middle" font-weight="bold" font-family="'Liberation Sans',sans-serif" textLength="9.54" lengthAdjust="spacingAndGlyphs" stroke="#000" stroke-width="0.45" stroke-linejoin="round">198</text>
<text x="412.00" y="175.05" font-size="6.0" fill="#000" text-anchor="middle" font-weight="bold" font-family="'Liberation Sans',sans-serif" textLength="9.54" lengthAdjust="spacingAndGlyphs" stroke="#000" stroke-width="0.45" stroke-linejoin="round">176</text>
<text x="428.10" y="185.25" font-size="6.0" fill="#000" text-anchor="middle" font-weight="bold" font-family="'Liberation Sans',sans-serif" textLength="9.54" lengthAdjust="spacingAndGlyphs" stroke="#000" stroke-width="0.45" stroke-linejoin="round">159</text>
<text x="285.80" y="196.65" font-size="6.0" fill="#de1212" text-anchor="middle" font-weight="bold" font-family="'Liberation Sans',sans-serif" textLength="14.04" lengthAdjust="spacingAndGlyphs" stroke="#de1212" stroke-width="0.45" stroke-linejoin="round">5.85%</text>
<text x="290.90" y="132.35" font-size="6.0" fill="#de1212" text-anchor="middle" font-weight="bold" font-family="'Liberation Sans',sans-serif" textLength="14.04" lengthAdjust="spacingAndGlyphs" stroke="#de1212" stroke-width="0.45" stroke-linejoin="round">9.09%</text>
<text x="318.90" y="124.35" font-size="6.0" fill="#de1212" text-anchor="middle" font-weight="bold" font-family="'Liberation Sans',sans-serif" textLength="14.04" lengthAdjust="spacingAndGlyphs" stroke="#de1212" stroke-width="0.45" stroke-linejoin="round">9.29%</text>
<text x="341.80" y="135.75" font-size="6.0" fill="#de1212" text-anchor="middle" font-weight="bold" font-family="'Liberation Sans',sans-serif" textLength="14.04" lengthAdjust="spacingAndGlyphs" stroke="#de1212" stroke-width="0.45" stroke-linejoin="round">9.15%</text>
<text x="354.50" y="107.35" font-size="6.0" fill="#de1212" text-anchor="middle" font-weight="bold" font-family="'Liberation Sans',sans-serif" textLength="17.22" lengthAdjust="spacingAndGlyphs" stroke="#de1212" stroke-width="0.45" stroke-linejoin="round">10.26%</text>
<text x="372.10" y="169.15" font-size="6.0" fill="#de1212" text-anchor="middle" font-weight="bold" font-family="'Liberation Sans',sans-serif" textLength="14.04" lengthAdjust="spacingAndGlyphs" stroke="#de1212" stroke-width="0.45" stroke-linejoin="round">6.59%</text>
<text x="379.00" y="246.75" font-size="6.0" fill="#de1212" text-anchor="middle" font-weight="bold" font-family="'Liberation Sans',sans-serif" textLength="14.04" lengthAdjust="spacingAndGlyphs" stroke="#de1212" stroke-width="0.45" stroke-linejoin="round">2.86%</text>
<text x="406.00" y="198.35" font-size="6.0" fill="#de1212" text-anchor="middle" font-weight="bold" font-family="'Liberation Sans',sans-serif" textLength="14.04" lengthAdjust="spacingAndGlyphs" stroke="#de1212" stroke-width="0.45" stroke-linejoin="round">5.38%</text>
<text x="408.80" y="132.35" font-size="6.0" fill="#de1212" text-anchor="middle" font-weight="bold" font-family="'Liberation Sans',sans-serif" textLength="14.04" lengthAdjust="spacingAndGlyphs" stroke="#de1212" stroke-width="0.45" stroke-linejoin="round">8.78%</text>
<text x="432.50" y="161.15" font-size="6.0" fill="#de1212" text-anchor="middle" font-weight="bold" font-family="'Liberation Sans',sans-serif" textLength="14.04" lengthAdjust="spacingAndGlyphs" stroke="#de1212" stroke-width="0.45" stroke-linejoin="round">7.02%</text>
<text x="282.40" y="170.45" font-size="6.0" fill="#0c0cbc" text-anchor="middle" font-weight="bold" font-family="'Liberation Sans',sans-serif" textLength="14.04" lengthAdjust="spacingAndGlyphs" stroke="#0c0cbc" stroke-width="0.45" stroke-linejoin="round">6.46%</text>
<text x="304.40" y="170.45" font-size="6.0" fill="#0c0cbc" text-anchor="middle" font-weight="bold" font-family="'Liberation Sans',sans-serif" textLength="14.04" lengthAdjust="spacingAndGlyphs" stroke="#0c0cbc" stroke-width="0.45" stroke-linejoin="round">6.56%</text>
<text x="317.20" y="177.25" font-size="6.0" fill="#0c0cbc" text-anchor="middle" font-weight="bold" font-family="'Liberation Sans',sans-serif" textLength="14.04" lengthAdjust="spacingAndGlyphs" stroke="#0c0cbc" stroke-width="0.45" stroke-linejoin="round">6.16%</text>
<text x="327.40" y="188.65" font-size="6.0" fill="#0c0cbc" text-anchor="middle" font-weight="bold" font-family="'Liberation Sans',sans-serif" textLength="14.04" lengthAdjust="spacingAndGlyphs" stroke="#0c0cbc" stroke-width="0.45" stroke-linejoin="round">6.24%</text>
<text x="347.70" y="200.55" font-size="6.0" fill="#0c0cbc" text-anchor="middle" font-weight="bold" font-family="'Liberation Sans',sans-serif" textLength="14.04" lengthAdjust="spacingAndGlyphs" stroke="#0c0cbc" stroke-width="0.45" stroke-linejoin="round">5.61%</text>
<text x="355.40" y="179.65" font-size="6.0" fill="#0c0cbc" text-anchor="middle" font-weight="bold" font-family="'Liberation Sans',sans-serif" textLength="14.04" lengthAdjust="spacingAndGlyphs" stroke="#0c0cbc" stroke-width="0.45" stroke-linejoin="round">6.25%</text>
<text x="379.20" y="188.15" font-size="6.0" fill="#0c0cbc" text-anchor="middle" font-weight="bold" font-family="'Liberation Sans',sans-serif" textLength="14.04" lengthAdjust="spacingAndGlyphs" stroke="#0c0cbc" stroke-width="0.45" stroke-linejoin="round">6.28%</text>
<text x="392.80" y="172.85" font-size="6.0" fill="#0c0cbc" text-anchor="middle" font-weight="bold" font-family="'Liberation Sans',sans-serif" textLength="14.04" lengthAdjust="spacingAndGlyphs" stroke="#0c0cbc" stroke-width="0.45" stroke-linejoin="round">6.39%</text>
<text x="409.80" y="188.15" font-size="6.0" fill="#0c0cbc" text-anchor="middle" font-weight="bold" font-family="'Liberation Sans',sans-serif" textLength="14.04" lengthAdjust="spacingAndGlyphs" stroke="#0c0cbc" stroke-width="0.45" stroke-linejoin="round">6.33%</text>
<text x="437.50" y="176.45" font-size="6.0" fill="#0c0cbc" text-anchor="middle" font-weight="bold" font-family="'Liberation Sans',sans-serif" textLength="14.04" lengthAdjust="spacingAndGlyphs" stroke="#0c0cbc" stroke-width="0.45" stroke-linejoin="round">6.60%</text>
<text x="511.88" y="71.78" font-size="11.8" fill="#000" text-anchor="start" font-weight="900" font-family="'Liberation Sans','Noto Sans CJK JP',sans-serif" textLength="128.37" lengthAdjust="spacing" style="font-feature-settings:'palt'">【飲酒運転の検挙状況】</text>
<text x="474.57" y="79.31" font-size="7.4" fill="#000" text-anchor="start" font-weight="900" font-family="'Liberation Sans','Noto Sans CJK JP',sans-serif" textLength="17.14" lengthAdjust="spacing" stroke="#000" stroke-width="0.2" stroke-linejoin="round" style="font-feature-settings:'palt'">（件）</text>
<line x1="496.70" y1="157.50" x2="690.90" y2="157.50" stroke="#d9d9d9" stroke-width="0.8"/>
<text x="486.80" y="160.36" font-size="8.0" fill="#000" text-anchor="end" font-weight="bold" font-family="'Liberation Sans',sans-serif" textLength="4.58" lengthAdjust="spacingAndGlyphs" stroke="#000" stroke-width="0.45" stroke-linejoin="round">0</text>
<line x1="496.70" y1="145.17" x2="690.90" y2="145.17" stroke="#d9d9d9" stroke-width="0.8"/>
<text x="486.80" y="148.03" font-size="8.0" fill="#000" text-anchor="end" font-weight="bold" font-family="'Liberation Sans',sans-serif" textLength="13.74" lengthAdjust="spacingAndGlyphs" stroke="#000" stroke-width="0.45" stroke-linejoin="round">200</text>
<line x1="496.70" y1="132.84" x2="690.90" y2="132.84" stroke="#d9d9d9" stroke-width="0.8"/>
<text x="486.80" y="135.70" font-size="8.0" fill="#000" text-anchor="end" font-weight="bold" font-family="'Liberation Sans',sans-serif" textLength="13.74" lengthAdjust="spacingAndGlyphs" stroke="#000" stroke-width="0.45" stroke-linejoin="round">400</text>
<line x1="496.70" y1="120.51" x2="690.90" y2="120.51" stroke="#d9d9d9" stroke-width="0.8"/>
<text x="486.80" y="123.37" font-size="8.0" fill="#000" text-anchor="end" font-weight="bold" font-family="'Liberation Sans',sans-serif" textLength="13.74" lengthAdjust="spacingAndGlyphs" stroke="#000" stroke-width="0.45" stroke-linejoin="round">600</text>
<line x1="496.70" y1="108.18" x2="690.90" y2="108.18" stroke="#d9d9d9" stroke-width="0.8"/>
<text x="486.80" y="111.04" font-size="8.0" fill="#000" text-anchor="end" font-weight="bold" font-family="'Liberation Sans',sans-serif" textLength="13.74" lengthAdjust="spacingAndGlyphs" stroke="#000" stroke-width="0.45" stroke-linejoin="round">800</text>
<line x1="496.70" y1="95.85" x2="690.90" y2="95.85" stroke="#d9d9d9" stroke-width="0.8"/>
<text x="486.80" y="98.71" font-size="8.0" fill="#000" text-anchor="end" font-weight="bold" font-family="'Liberation Sans',sans-serif" textLength="20.04" lengthAdjust="spacingAndGlyphs" stroke="#000" stroke-width="0.45" stroke-linejoin="round">1,000</text>
<line x1="496.70" y1="83.52" x2="690.90" y2="83.52" stroke="#d9d9d9" stroke-width="0.8"/>
<text x="486.80" y="86.38" font-size="8.0" fill="#000" text-anchor="end" font-weight="bold" font-family="'Liberation Sans',sans-serif" textLength="20.04" lengthAdjust="spacingAndGlyphs" stroke="#000" stroke-width="0.45" stroke-linejoin="round">1,200</text>
<text x="516.90" y="169.79" font-size="7.8" fill="#000" text-anchor="middle" font-weight="bold" font-family="'Liberation Sans',sans-serif" textLength="11.67" lengthAdjust="spacingAndGlyphs" stroke="#000" stroke-width="0.45" stroke-linejoin="round">H28</text>
<text x="555.70" y="169.79" font-size="7.8" fill="#000" text-anchor="middle" font-weight="bold" font-family="'Liberation Sans',sans-serif" textLength="11.67" lengthAdjust="spacingAndGlyphs" stroke="#000" stroke-width="0.45" stroke-linejoin="round">H29</text>
<text x="594.50" y="169.79" font-size="7.8" fill="#000" text-anchor="middle" font-weight="bold" font-family="'Liberation Sans',sans-serif" textLength="11.67" lengthAdjust="spacingAndGlyphs" stroke="#000" stroke-width="0.45" stroke-linejoin="round">H30</text>
<text x="633.30" y="169.85" font-size="7.5" fill="#000" text-anchor="middle" font-weight="bold" font-family="'Liberation Sans','Noto Sans CJK JP',sans-serif" textLength="12.50" lengthAdjust="spacingAndGlyphs" stroke="#000" stroke-width="0.2" stroke-linejoin="round">R元</text>
<text x="672.10" y="169.79" font-size="7.8" fill="#000" text-anchor="middle" font-weight="bold" font-family="'Liberation Sans',sans-serif" textLength="8.15" lengthAdjust="spacingAndGlyphs" stroke="#000" stroke-width="0.45" stroke-linejoin="round">R2</text>
<polygon points="518.46,148.80 671.93,107.38 672.95,111.15 678.90,102.50 669.40,98.02 670.42,101.78 516.94,143.20" fill="#ffff00" stroke="#e46c0a" stroke-width="0.8" stroke-linejoin="miter"/>
<polyline points="516.90,116.69 555.70,111.32 594.50,111.51 633.30,101.09 672.10,93.45" fill="none" stroke="#0c0cbc" stroke-width="2.6" stroke-linejoin="round"/>
<circle cx="516.90" cy="116.69" r="3.1" fill="#0c0cbc" stroke="#06066e" stroke-width="0.45"/>
<circle cx="555.70" cy="111.32" r="3.1" fill="#0c0cbc" stroke="#06066e" stroke-width="0.45"/>
<circle cx="594.50" cy="111.51" r="3.1" fill="#0c0cbc" stroke="#06066e" stroke-width="0.45"/>
<circle cx="633.30" cy="101.09" r="3.1" fill="#0c0cbc" stroke="#06066e" stroke-width="0.45"/>
<circle cx="672.10" cy="93.45" r="3.1" fill="#0c0cbc" stroke="#06066e" stroke-width="0.45"/>
<text x="515.50" y="110.94" font-size="8.2" fill="#0c0cbc" text-anchor="middle" font-weight="bold" font-family="'Liberation Sans',sans-serif" textLength="13.04" lengthAdjust="spacingAndGlyphs" stroke="#0c0cbc" stroke-width="0.45" stroke-linejoin="round">662</text>
<text x="553.10" y="105.24" font-size="8.2" fill="#0c0cbc" text-anchor="middle" font-weight="bold" font-family="'Liberation Sans',sans-serif" textLength="13.04" lengthAdjust="spacingAndGlyphs" stroke="#0c0cbc" stroke-width="0.45" stroke-linejoin="round">749</text>
<text x="593.90" y="105.64" font-size="8.2" fill="#0c0cbc" text-anchor="middle" font-weight="bold" font-family="'Liberation Sans',sans-serif" textLength="13.04" lengthAdjust="spacingAndGlyphs" stroke="#0c0cbc" stroke-width="0.45" stroke-linejoin="round">746</text>
<text x="630.50" y="95.74" font-size="8.2" fill="#0c0cbc" text-anchor="middle" font-weight="bold" font-family="'Liberation Sans',sans-serif" textLength="13.04" lengthAdjust="spacingAndGlyphs" stroke="#0c0cbc" stroke-width="0.45" stroke-linejoin="round">915</text>
<text x="672.40" y="87.84" font-size="8.2" fill="#0c0cbc" text-anchor="middle" font-weight="bold" font-family="'Liberation Sans',sans-serif" textLength="19.02" lengthAdjust="spacingAndGlyphs" stroke="#0c0cbc" stroke-width="0.45" stroke-linejoin="round">1,039</text>
<text x="604.80" y="140.92" font-size="9.0" fill="#de1212" text-anchor="start" font-weight="bold" font-family="'Liberation Sans',sans-serif" textLength="14.80" lengthAdjust="spacingAndGlyphs" stroke="#de1212" stroke-width="0.3" stroke-linejoin="round">H28</text>
<text x="620.47" y="141.12" font-size="9" fill="#de1212" text-anchor="start" font-weight="bold" font-family="'Liberation Sans','Noto Sans CJK JP',sans-serif" textLength="46.86" lengthAdjust="spacing" stroke="#de1212" stroke-width="0.25" stroke-linejoin="round" style="font-feature-settings:'palt'">と比較して</text>
<text x="619.47" y="153.02" font-size="9" fill="#de1212" text-anchor="start" font-weight="bold" font-family="'Liberation Sans','Noto Sans CJK JP',sans-serif" textLength="10.26" lengthAdjust="spacing" stroke="#de1212" stroke-width="0.25" stroke-linejoin="round" style="font-feature-settings:'palt'">約</text>
<text x="630.50" y="152.82" font-size="9.0" fill="#de1212" text-anchor="start" font-weight="bold" font-family="'Liberation Sans',sans-serif" textLength="9.90" lengthAdjust="spacingAndGlyphs" stroke="#de1212" stroke-width="0.3" stroke-linejoin="round">1.6</text>
<text x="641.26" y="153.02" font-size="9" fill="#de1212" text-anchor="start" font-weight="bold" font-family="'Liberation Sans','Noto Sans CJK JP',sans-serif" textLength="12.26" lengthAdjust="spacing" stroke="#de1212" stroke-width="0.25" stroke-linejoin="round" style="font-feature-settings:'palt'">倍</text>
<text x="480.38" y="188.18" font-size="11.8" fill="#000" text-anchor="start" font-weight="900" font-family="'Liberation Sans','Noto Sans CJK JP',sans-serif" textLength="189.37" lengthAdjust="spacing" style="font-feature-settings:'palt'">【飲酒運転周辺者三罪の検挙状況】</text>
<line x1="497.40" y1="198.60" x2="512.70" y2="198.60" stroke="#de1212" stroke-width="1.8"/>
<circle cx="505.00" cy="198.60" r="2.2" fill="#de1212"/>
<text x="515.71" y="200.96" font-size="6.2" fill="#000" text-anchor="start" font-weight="900" font-family="'Liberation Sans','Noto Sans CJK JP',sans-serif" textLength="20.45" lengthAdjust="spacing" stroke="#000" stroke-width="0.3" stroke-linejoin="round" style="font-feature-settings:'palt'">同乗罪</text>
<line x1="551.60" y1="198.60" x2="568.00" y2="198.60" stroke="#1010a0" stroke-width="1.5"/>
<polygon points="559.80,196.40 562.00,198.60 559.80,200.80 557.60,198.60" fill="#1010a0" stroke="none" stroke-width="0" stroke-linejoin="miter"/>
<text x="570.91" y="200.96" font-size="6.2" fill="#000" text-anchor="start" font-weight="900" font-family="'Liberation Sans','Noto Sans CJK JP',sans-serif" textLength="38.15" lengthAdjust="spacing" stroke="#000" stroke-width="0.3" stroke-linejoin="round" style="font-feature-settings:'palt'">車両提供罪</text>
<line x1="621.90" y1="198.60" x2="639.60" y2="198.60" stroke="#33ee33" stroke-width="1.8"/>
<rect x="628.50" y="196.50" width="4.20" height="4.20" fill="#33ee33" stroke="none" stroke-width="0"/>
<text x="641.91" y="200.96" font-size="6.2" fill="#000" text-anchor="start" font-weight="900" font-family="'Liberation Sans','Noto Sans CJK JP',sans-serif" textLength="39.05" lengthAdjust="spacing" stroke="#000" stroke-width="0.3" stroke-linejoin="round" style="font-feature-settings:'palt'">酒類提供罪</text>
<text x="470.25" y="203.63" font-size="6.4" fill="#000" text-anchor="start" font-weight="900" font-family="'Liberation Sans','Noto Sans CJK JP',sans-serif" textLength="15.47" lengthAdjust="spacing" stroke="#000" stroke-width="0.2" stroke-linejoin="round" style="font-feature-settings:'palt'">（件）</text>
<line x1="482.00" y1="283.00" x2="692.60" y2="283.00" stroke="#d9d9d9" stroke-width="0.8"/>
<text x="475.00" y="286.04" font-size="8.5" fill="#000" text-anchor="end" font-weight="bold" font-family="'Liberation Sans',sans-serif" textLength="4.28" lengthAdjust="spacingAndGlyphs" stroke="#000" stroke-width="0.45" stroke-linejoin="round">0</text>
<line x1="482.00" y1="264.20" x2="692.60" y2="264.20" stroke="#d9d9d9" stroke-width="0.8"/>
<text x="475.00" y="267.24" font-size="8.5" fill="#000" text-anchor="end" font-weight="bold" font-family="'Liberation Sans',sans-serif" textLength="8.56" lengthAdjust="spacingAndGlyphs" stroke="#000" stroke-width="0.45" stroke-linejoin="round">10</text>
<line x1="482.00" y1="245.40" x2="692.60" y2="245.40" stroke="#d9d9d9" stroke-width="0.8"/>
<text x="475.00" y="248.44" font-size="8.5" fill="#000" text-anchor="end" font-weight="bold" font-family="'Liberation Sans',sans-serif" textLength="8.56" lengthAdjust="spacingAndGlyphs" stroke="#000" stroke-width="0.45" stroke-linejoin="round">20</text>
<line x1="482.00" y1="226.60" x2="692.60" y2="226.60" stroke="#d9d9d9" stroke-width="0.8"/>
<text x="475.00" y="229.64" font-size="8.5" fill="#000" text-anchor="end" font-weight="bold" font-family="'Liberation Sans',sans-serif" textLength="8.56" lengthAdjust="spacingAndGlyphs" stroke="#000" stroke-width="0.45" stroke-linejoin="round">30</text>
<line x1="482.00" y1="207.80" x2="692.60" y2="207.80" stroke="#d9d9d9" stroke-width="0.8"/>
<text x="475.00" y="210.84" font-size="8.5" fill="#000" text-anchor="end" font-weight="bold" font-family="'Liberation Sans',sans-serif" textLength="8.56" lengthAdjust="spacingAndGlyphs" stroke="#000" stroke-width="0.45" stroke-linejoin="round">40</text>
<text x="502.60" y="294.49" font-size="7.8" fill="#000" text-anchor="middle" font-weight="bold" font-family="'Liberation Sans',sans-serif" textLength="11.67" lengthAdjust="spacingAndGlyphs" stroke="#000" stroke-width="0.45" stroke-linejoin="round">H28</text>
<text x="544.70" y="294.49" font-size="7.8" fill="#000" text-anchor="middle" font-weight="bold" font-family="'Liberation Sans',sans-serif" textLength="11.67" lengthAdjust="spacingAndGlyphs" stroke="#000" stroke-width="0.45" stroke-linejoin="round">H29</text>
<text x="586.80" y="294.49" font-size="7.8" fill="#000" text-anchor="middle" font-weight="bold" font-family="'Liberation Sans',sans-serif" textLength="11.67" lengthAdjust="spacingAndGlyphs" stroke="#000" stroke-width="0.45" stroke-linejoin="round">H30</text>
<text x="628.90" y="294.55" font-size="7.5" fill="#000" text-anchor="middle" font-weight="bold" font-family="'Liberation Sans','Noto Sans CJK JP',sans-serif" textLength="12.50" lengthAdjust="spacingAndGlyphs" stroke="#000" stroke-width="0.2" stroke-linejoin="round">R元</text>
<text x="671.00" y="294.49" font-size="7.8" fill="#000" text-anchor="middle" font-weight="bold" font-family="'Liberation Sans',sans-serif" textLength="8.15" lengthAdjust="spacingAndGlyphs" stroke="#000" stroke-width="0.45" stroke-linejoin="round">R2</text>
<polyline points="502.60,281.12 544.70,277.36 586.80,275.48 628.90,279.24 671.00,279.24" fill="none" stroke="#1010a0" stroke-width="1.5" stroke-linejoin="round"/>
<polygon points="502.60,278.52 505.20,281.12 502.60,283.72 500.00,281.12" fill="#1010a0" stroke="none" stroke-width="0" stroke-linejoin="miter"/>
<polygon points="544.70,274.76 547.30,277.36 544.70,279.96 542.10,277.36" fill="#1010a0" stroke="none" stroke-width="0" stroke-linejoin="miter"/>
<polygon points="586.80,272.88 589.40,275.48 586.80,278.08 584.20,275.48" fill="#1010a0" stroke="none" stroke-width="0" stroke-linejoin="miter"/>
<polygon points="628.90,276.64 631.50,279.24 628.90,281.84 626.30,279.24" fill="#1010a0" stroke="none" stroke-width="0" stroke-linejoin="miter"/>
<polygon points="671.00,276.64 673.60,279.24 671.00,281.84 668.40,279.24" fill="#1010a0" stroke="none" stroke-width="0" stroke-linejoin="miter"/>
<polyline points="502.60,279.24 544.70,281.12 586.80,283.00 628.90,279.24 671.00,275.48" fill="none" stroke="#33ee33" stroke-width="2.0" stroke-linejoin="round"/>
<rect x="499.60" y="276.24" width="6.00" height="6.00" fill="#33ee33" stroke="none" stroke-width="0"/>
<rect x="541.70" y="278.12" width="6.00" height="6.00" fill="#33ee33" stroke="none" stroke-width="0"/>
<rect x="583.80" y="280.00" width="6.00" height="6.00" fill="#33ee33" stroke="none" stroke-width="0"/>
<rect x="625.90" y="276.24" width="6.00" height="6.00" fill="#33ee33" stroke="none" stroke-width="0"/>
<rect x="668.00" y="272.48" width="6.00" height="6.00" fill="#33ee33" stroke="none" stroke-width="0"/>
<polyline points="502.60,245.40 544.70,247.28 586.80,234.12 628.90,234.12 671.00,228.48" fill="none" stroke="#e02020" stroke-width="1.8" stroke-linejoin="round"/>
<circle cx="502.60" cy="245.40" r="3.2" fill="#e02020"/>
<circle cx="544.70" cy="247.28" r="3.2" fill="#e02020"/>
<circle cx="586.80" cy="234.12" r="3.2" fill="#e02020"/>
<circle cx="628.90" cy="234.12" r="3.2" fill="#e02020"/>
<circle cx="671.00" cy="228.48" r="3.2" fill="#e02020"/>
<text x="502.60" y="240.12" font-size="9" fill="#e02020" text-anchor="middle" font-weight="bold" font-family="'Liberation Sans',sans-serif" textLength="8.11" lengthAdjust="spacingAndGlyphs" stroke="#e02020" stroke-width="0.45" stroke-linejoin="round">20</text>
<text x="544.70" y="242.00" font-size="9" fill="#e02020" text-anchor="middle" font-weight="bold" font-family="'Liberation Sans',sans-serif" textLength="8.11" lengthAdjust="spacingAndGlyphs" stroke="#e02020" stroke-width="0.45" stroke-linejoin="round">19</text>
<text x="586.80" y="228.84" font-size="9" fill="#e02020" text-anchor="middle" font-weight="bold" font-family="'Liberation Sans',sans-serif" textLength="8.11" lengthAdjust="spacingAndGlyphs" stroke="#e02020" stroke-width="0.45" stroke-linejoin="round">26</text>
<text x="628.90" y="228.84" font-size="9" fill="#e02020" text-anchor="middle" font-weight="bold" font-family="'Liberation Sans',sans-serif" textLength="8.11" lengthAdjust="spacingAndGlyphs" stroke="#e02020" stroke-width="0.45" stroke-linejoin="round">26</text>
<text x="671.00" y="223.20" font-size="9" fill="#e02020" text-anchor="middle" font-weight="bold" font-family="'Liberation Sans',sans-serif" textLength="8.11" lengthAdjust="spacingAndGlyphs" stroke="#e02020" stroke-width="0.45" stroke-linejoin="round">29</text>
<text x="493.10" y="287.22" font-size="9" fill="#1010a0" text-anchor="middle" font-weight="bold" font-family="'Liberation Sans',sans-serif" textLength="4.05" lengthAdjust="spacingAndGlyphs" stroke="#1010a0" stroke-width="0.45" stroke-linejoin="round">1</text>
<text x="544.00" y="271.42" font-size="9" fill="#1010a0" text-anchor="middle" font-weight="bold" font-family="'Liberation Sans',sans-serif" textLength="4.05" lengthAdjust="spacingAndGlyphs" stroke="#1010a0" stroke-width="0.45" stroke-linejoin="round">3</text>
<text x="586.00" y="271.42" font-size="9" fill="#1010a0" text-anchor="middle" font-weight="bold" font-family="'Liberation Sans',sans-serif" textLength="4.05" lengthAdjust="spacingAndGlyphs" stroke="#1010a0" stroke-width="0.45" stroke-linejoin="round">4</text>
<text x="626.60" y="273.72" font-size="9" fill="#1010a0" text-anchor="middle" font-weight="bold" font-family="'Liberation Sans',sans-serif" textLength="4.05" lengthAdjust="spacingAndGlyphs" stroke="#1010a0" stroke-width="0.45" stroke-linejoin="round">2</text>
<text x="678.50" y="286.22" font-size="9" fill="#1010a0" text-anchor="middle" font-weight="bold" font-family="'Liberation Sans',sans-serif" textLength="4.05" lengthAdjust="spacingAndGlyphs" stroke="#1010a0" stroke-width="0.45" stroke-linejoin="round">2</text>
<text x="502.60" y="273.22" font-size="9" fill="#33ee33" text-anchor="middle" font-weight="bold" font-family="'Liberation Sans',sans-serif" textLength="4.05" lengthAdjust="spacingAndGlyphs" stroke="#33ee33" stroke-width="0.45" stroke-linejoin="round">2</text>
<text x="538.00" y="289.02" font-size="9" fill="#33ee33" text-anchor="middle" font-weight="bold" font-family="'Liberation Sans',sans-serif" textLength="4.05" lengthAdjust="spacingAndGlyphs" stroke="#33ee33" stroke-width="0.45" stroke-linejoin="round">1</text>
<text x="593.60" y="288.62" font-size="9" fill="#33ee33" text-anchor="middle" font-weight="bold" font-family="'Liberation Sans',sans-serif" textLength="4.05" lengthAdjust="spacingAndGlyphs" stroke="#33ee33" stroke-width="0.45" stroke-linejoin="round">0</text>
<text x="631.80" y="287.92" font-size="9" fill="#33ee33" text-anchor="middle" font-weight="bold" font-family="'Liberation Sans',sans-serif" textLength="4.05" lengthAdjust="spacingAndGlyphs" stroke="#33ee33" stroke-width="0.45" stroke-linejoin="round">2</text>
<text x="671.00" y="269.02" font-size="9" fill="#33ee33" text-anchor="middle" font-weight="bold" font-family="'Liberation Sans',sans-serif" textLength="4.05" lengthAdjust="spacingAndGlyphs" stroke="#33ee33" stroke-width="0.45" stroke-linejoin="round">4</text>
<text x="488.68" y="320.28" font-size="11.8" fill="#000" text-anchor="start" font-weight="900" font-family="'Liberation Sans','Noto Sans CJK JP',sans-serif" textLength="164.27" lengthAdjust="spacing" style="font-feature-settings:'palt'">【危険運転致死傷罪立件状況】</text>
<rect x="532.20" y="324.80" width="15.80" height="3.40" fill="#33ffff" stroke="#1f4f5f" stroke-width="0.7"/>
<text x="550.19" y="329.16" font-size="7" fill="#000" text-anchor="start" font-weight="900" font-family="'Liberation Sans','Noto Sans CJK JP',sans-serif" textLength="14.98" lengthAdjust="spacing" stroke="#000" stroke-width="0.3" stroke-linejoin="round" style="font-feature-settings:'palt'">件数</text>
<line x1="584.70" y1="327.00" x2="601.70" y2="327.00" stroke="#de1212" stroke-width="1.8"/>
<circle cx="593.20" cy="327.00" r="2.2" fill="#de1212"/>
<text x="603.89" y="329.66" font-size="7" fill="#000" text-anchor="start" font-weight="900" font-family="'Liberation Sans','Noto Sans CJK JP',sans-serif" textLength="24.08" lengthAdjust="spacing" stroke="#000" stroke-width="0.3" stroke-linejoin="round" style="font-feature-settings:'palt'">立件率</text>
<text x="469.74" y="331.96" font-size="7.0" fill="#000" text-anchor="start" font-weight="900" font-family="'Liberation Sans','Noto Sans CJK JP',sans-serif" textLength="16.19" lengthAdjust="spacing" stroke="#000" stroke-width="0.2" stroke-linejoin="round" style="font-feature-settings:'palt'">（件）</text>
<line x1="481.00" y1="412.50" x2="666.00" y2="412.50" stroke="#d9d9d9" stroke-width="0.8"/>
<text x="473.80" y="415.22" font-size="7.6" fill="#000" text-anchor="end" font-weight="bold" font-family="'Liberation Sans',sans-serif" textLength="4.03" lengthAdjust="spacingAndGlyphs" stroke="#000" stroke-width="0.45" stroke-linejoin="round">0</text>
<line x1="481.00" y1="393.55" x2="666.00" y2="393.55" stroke="#d9d9d9" stroke-width="0.8"/>
<text x="473.80" y="396.27" font-size="7.6" fill="#000" text-anchor="end" font-weight="bold" font-family="'Liberation Sans',sans-serif" textLength="8.06" lengthAdjust="spacingAndGlyphs" stroke="#000" stroke-width="0.45" stroke-linejoin="round">20</text>
<line x1="481.00" y1="374.60" x2="666.00" y2="374.60" stroke="#d9d9d9" stroke-width="0.8"/>
<text x="473.80" y="377.32" font-size="7.6" fill="#000" text-anchor="end" font-weight="bold" font-family="'Liberation Sans',sans-serif" textLength="8.06" lengthAdjust="spacingAndGlyphs" stroke="#000" stroke-width="0.45" stroke-linejoin="round">40</text>
<line x1="481.00" y1="355.65" x2="666.00" y2="355.65" stroke="#d9d9d9" stroke-width="0.8"/>
<text x="473.80" y="358.37" font-size="7.6" fill="#000" text-anchor="end" font-weight="bold" font-family="'Liberation Sans',sans-serif" textLength="8.06" lengthAdjust="spacingAndGlyphs" stroke="#000" stroke-width="0.45" stroke-linejoin="round">60</text>
<line x1="481.00" y1="336.70" x2="666.00" y2="336.70" stroke="#d9d9d9" stroke-width="0.8"/>
<text x="473.80" y="339.42" font-size="7.6" fill="#000" text-anchor="end" font-weight="bold" font-family="'Liberation Sans',sans-serif" textLength="8.06" lengthAdjust="spacingAndGlyphs" stroke="#000" stroke-width="0.45" stroke-linejoin="round">80</text>
<text x="690.00" y="415.01" font-size="7" fill="#000" text-anchor="end" font-weight="bold" font-family="'Liberation Sans',sans-serif" textLength="12.67" lengthAdjust="spacingAndGlyphs" stroke="#000" stroke-width="0.45" stroke-linejoin="round">0.0%</text>
<text x="690.00" y="389.71" font-size="7" fill="#000" text-anchor="end" font-weight="bold" font-family="'Liberation Sans',sans-serif" textLength="16.38" lengthAdjust="spacingAndGlyphs" stroke="#000" stroke-width="0.45" stroke-linejoin="round">20.0%</text>
<text x="690.00" y="364.41" font-size="7" fill="#000" text-anchor="end" font-weight="bold" font-family="'Liberation Sans',sans-serif" textLength="16.38" lengthAdjust="spacingAndGlyphs" stroke="#000" stroke-width="0.45" stroke-linejoin="round">40.0%</text>
<text x="690.00" y="339.11" font-size="7" fill="#000" text-anchor="end" font-weight="bold" font-family="'Liberation Sans',sans-serif" textLength="16.38" lengthAdjust="spacingAndGlyphs" stroke="#000" stroke-width="0.45" stroke-linejoin="round">60.0%</text>
<rect x="493.40" y="386.92" width="11.60" height="25.58" fill="#33ffff" stroke="#2f6f6f" stroke-width="0.8"/>
<text x="499.20" y="424.80" font-size="9.5" fill="#000" text-anchor="middle" font-weight="bold" font-family="'Liberation Sans',sans-serif" textLength="16.72" lengthAdjust="spacingAndGlyphs" stroke="#000" stroke-width="0.45" stroke-linejoin="round">H28</text>
<text x="499.20" y="384.12" font-size="7.6" fill="#000" text-anchor="middle" font-weight="bold" font-family="'Liberation Sans',sans-serif" textLength="8.46" lengthAdjust="spacingAndGlyphs" stroke="#000" stroke-width="0.45" stroke-linejoin="round">27</text>
<rect x="530.50" y="383.13" width="11.60" height="29.37" fill="#33ffff" stroke="#2f6f6f" stroke-width="0.8"/>
<text x="536.30" y="424.80" font-size="9.5" fill="#000" text-anchor="middle" font-weight="bold" font-family="'Liberation Sans',sans-serif" textLength="16.72" lengthAdjust="spacingAndGlyphs" stroke="#000" stroke-width="0.45" stroke-linejoin="round">H29</text>
<text x="536.30" y="381.32" font-size="7.6" fill="#000" text-anchor="middle" font-weight="bold" font-family="'Liberation Sans',sans-serif" textLength="8.46" lengthAdjust="spacingAndGlyphs" stroke="#000" stroke-width="0.45" stroke-linejoin="round">31</text>
<rect x="567.60" y="379.34" width="11.60" height="33.16" fill="#33ffff" stroke="#2f6f6f" stroke-width="0.8"/>
<text x="573.40" y="424.80" font-size="9.5" fill="#000" text-anchor="middle" font-weight="bold" font-family="'Liberation Sans',sans-serif" textLength="16.72" lengthAdjust="spacingAndGlyphs" stroke="#000" stroke-width="0.45" stroke-linejoin="round">H30</text>
<text x="573.40" y="376.72" font-size="7.6" fill="#000" text-anchor="middle" font-weight="bold" font-family="'Liberation Sans',sans-serif" textLength="8.46" lengthAdjust="spacingAndGlyphs" stroke="#000" stroke-width="0.45" stroke-linejoin="round">35</text>
<rect x="604.70" y="376.50" width="11.60" height="36.01" fill="#33ffff" stroke="#2f6f6f" stroke-width="0.8"/>
<text x="610.50" y="425.01" font-size="9.5" fill="#000" text-anchor="middle" font-weight="bold" font-family="'Liberation Sans','Noto Sans CJK JP',sans-serif" textLength="16.00" lengthAdjust="spacingAndGlyphs" stroke="#000" stroke-width="0.2" stroke-linejoin="round">R元</text>
<text x="610.50" y="373.42" font-size="7.6" fill="#000" text-anchor="middle" font-weight="bold" font-family="'Liberation Sans',sans-serif" textLength="8.46" lengthAdjust="spacingAndGlyphs" stroke="#000" stroke-width="0.45" stroke-linejoin="round">38</text>
<rect x="641.80" y="350.91" width="11.60" height="61.59" fill="#33ffff" stroke="#2f6f6f" stroke-width="0.8"/>
<text x="647.60" y="424.80" font-size="9.5" fill="#000" text-anchor="middle" font-weight="bold" font-family="'Liberation Sans',sans-serif" textLength="11.69" lengthAdjust="spacingAndGlyphs" stroke="#000" stroke-width="0.45" stroke-linejoin="round">R2</text>
<text x="647.60" y="344.02" font-size="7.6" fill="#000" text-anchor="middle" font-weight="bold" font-family="'Liberation Sans',sans-serif" textLength="8.46" lengthAdjust="spacingAndGlyphs" stroke="#000" stroke-width="0.45" stroke-linejoin="round">65</text>
<polygon points="507.78,379.39 629.58,343.98 630.70,347.82 636.00,339.20 626.90,334.76 628.02,338.60 506.22,374.01" fill="#ffff00" stroke="#e46c0a" stroke-width="0.8" stroke-linejoin="miter"/>
<polyline points="499.20,394.41 536.30,390.49 573.40,389.48 610.50,383.15 647.60,350.64" fill="none" stroke="#d42020" stroke-width="2.0" stroke-linejoin="round"/>
<circle cx="499.20" cy="394.41" r="3.4" fill="#e01010"/>
<circle cx="536.30" cy="390.49" r="3.4" fill="#e01010"/>
<circle cx="573.40" cy="389.48" r="3.4" fill="#e01010"/>
<circle cx="610.50" cy="383.15" r="3.4" fill="#e01010"/>
<circle cx="647.60" cy="350.64" r="3.4" fill="#e01010"/>
<text x="499.20" y="404.26" font-size="8" fill="#d81818" text-anchor="middle" font-weight="bold" font-family="'Liberation Sans',sans-serif" textLength="18.72" lengthAdjust="spacingAndGlyphs" stroke="#d81818" stroke-width="0.45" stroke-linejoin="round">14.3%</text>
<text x="536.30" y="402.16" font-size="8" fill="#d81818" text-anchor="middle" font-weight="bold" font-family="'Liberation Sans',sans-serif" textLength="18.72" lengthAdjust="spacingAndGlyphs" stroke="#d81818" stroke-width="0.45" stroke-linejoin="round">17.4%</text>
<text x="573.40" y="401.16" font-size="8" fill="#d81818" text-anchor="middle" font-weight="bold" font-family="'Liberation Sans',sans-serif" textLength="18.72" lengthAdjust="spacingAndGlyphs" stroke="#d81818" stroke-width="0.45" stroke-linejoin="round">18.2%</text>
<text x="610.50" y="395.06" font-size="8" fill="#d81818" text-anchor="middle" font-weight="bold" font-family="'Liberation Sans',sans-serif" textLength="18.72" lengthAdjust="spacingAndGlyphs" stroke="#d81818" stroke-width="0.45" stroke-linejoin="round">23.2%</text>
<rect x="654.70" y="341.50" width="26.70" height="14.60" fill="#fff" stroke="#5a5aa8" stroke-width="1"/>
<text x="668.00" y="351.89" font-size="9.2" fill="#de1212" text-anchor="middle" font-weight="bold" font-family="'Liberation Sans',sans-serif" textLength="19.81" lengthAdjust="spacingAndGlyphs" stroke="#de1212" stroke-width="0.45" stroke-linejoin="round">48.9%</text>
<text x="486.76" y="342.50" font-size="9.2" fill="#de1212" text-anchor="start" font-weight="bold" font-family="'Liberation Sans','Noto Sans CJK JP',sans-serif" textLength="75.07" lengthAdjust="spacing" stroke="#de1212" stroke-width="0.2" stroke-linejoin="round" style="font-feature-settings:'palt'">R2は飲酒人身事故</text>
<text x="476.48" y="352.60" font-size="9.2" fill="#de1212" text-anchor="start" font-weight="bold" font-family="'Liberation Sans','Noto Sans CJK JP',sans-serif" textLength="97.75" lengthAdjust="spacing" stroke="#de1212" stroke-width="0.2" stroke-linejoin="round" style="font-feature-settings:'palt'">(133件）の約半数に適用</text>
<text x="117.58" y="317.76" font-size="11.2" fill="#000" text-anchor="start" font-weight="900" font-family="'Liberation Sans','Noto Sans CJK JP',sans-serif" textLength="307.44" lengthAdjust="spacing" style="font-feature-settings:'palt'">【（参考）千葉県の飲酒運転人身事故発生順位（ワースト）】</text>
<text x="118.07" y="328.57" font-size="8.6" fill="#000" text-anchor="start" font-weight="900" font-family="'Liberation Sans','Noto Sans CJK JP',sans-serif" textLength="34.84" lengthAdjust="spacing" style="font-feature-settings:'palt'">発生件数</text>
<text x="354.47" y="328.87" font-size="8.6" fill="#000" text-anchor="start" font-weight="900" font-family="'Liberation Sans','Noto Sans CJK JP',sans-serif" textLength="52.54" lengthAdjust="spacing" style="font-feature-settings:'palt'">死亡事故件数</text>
<line x1="72.00" y1="329.50" x2="200.00" y2="329.50" stroke="#333" stroke-width="1.0"/>
<line x1="72.00" y1="338.50" x2="200.00" y2="338.50" stroke="#333" stroke-width="1.0"/>
<line x1="72.00" y1="347.50" x2="200.00" y2="347.50" stroke="#333" stroke-width="1.0"/>
<line x1="72.00" y1="356.50" x2="200.00" y2="356.50" stroke="#333" stroke-width="1.0"/>
<line x1="72.00" y1="365.50" x2="200.00" y2="365.50" stroke="#333" stroke-width="1.0"/>
<line x1="72.00" y1="373.50" x2="200.00" y2="373.50" stroke="#333" stroke-width="1.0"/>
<line x1="72.00" y1="382.50" x2="200.00" y2="382.50" stroke="#333" stroke-width="1.0"/>
<line x1="72.00" y1="391.50" x2="200.00" y2="391.50" stroke="#333" stroke-width="1.0"/>
<line x1="72.00" y1="400.50" x2="200.00" y2="400.50" stroke="#333" stroke-width="1.0"/>
<line x1="72.00" y1="409.50" x2="200.00" y2="409.50" stroke="#333" stroke-width="1.0"/>
<line x1="72.00" y1="417.50" x2="200.00" y2="417.50" stroke="#333" stroke-width="1.0"/>
<line x1="72.00" y1="426.50" x2="200.00" y2="426.50" stroke="#333" stroke-width="1.0"/>
<line x1="72.50" y1="329.50" x2="72.50" y2="426.50" stroke="#333" stroke-width="1.0"/>
<line x1="114.50" y1="329.50" x2="114.50" y2="426.50" stroke="#333" stroke-width="1.0"/>
<line x1="156.50" y1="329.50" x2="156.50" y2="426.50" stroke="#333" stroke-width="1.0"/>
<line x1="199.50" y1="329.50" x2="199.50" y2="426.50" stroke="#333" stroke-width="1.0"/>
<text x="79.32" y="338.24" font-size="8.0" fill="#333" text-anchor="start" font-weight="normal" font-family="'Liberation Sans','IPAGothic',sans-serif" textLength="27.86" lengthAdjust="spacing">（件）</text>
<text x="126.57" y="338.39" font-size="8.4" fill="#333" text-anchor="start" font-weight="normal" font-family="'Liberation Sans','IPAGothic',sans-serif" textLength="17.74" lengthAdjust="spacing">件数</text>
<text x="157.70" y="337.78" font-size="6.8" fill="#333" text-anchor="start" font-weight="normal" font-family="'Liberation Sans','IPAGothic',sans-serif" textLength="40.07" lengthAdjust="spacing">ワースト順位</text>
<text x="93.25" y="346.69" font-size="7.8" fill="#222" text-anchor="middle" font-weight="normal" font-family="'Liberation Sans','IPAGothic',sans-serif" textLength="13.80" lengthAdjust="spacingAndGlyphs" stroke="#222" stroke-width="0.15" stroke-linejoin="round">H23</text>
<text x="154.90" y="346.69" font-size="7.8" fill="#222" text-anchor="end" font-weight="normal" font-family="'Liberation Sans','IPAGothic',sans-serif" textLength="13.80" lengthAdjust="spacingAndGlyphs" stroke="#222" stroke-width="0.15" stroke-linejoin="round">255</text>
<text x="177.70" y="346.86" font-size="7.8" fill="#222" text-anchor="middle" font-weight="normal" font-family="'Liberation Sans','IPAGothic',sans-serif" textLength="13.00" lengthAdjust="spacing" stroke="#222" stroke-width="0.15" stroke-linejoin="round">3位</text>
<text x="93.25" y="355.49" font-size="7.8" fill="#222" text-anchor="middle" font-weight="normal" font-family="'Liberation Sans','IPAGothic',sans-serif" textLength="13.80" lengthAdjust="spacingAndGlyphs" stroke="#222" stroke-width="0.15" stroke-linejoin="round">H24</text>
<text x="154.90" y="355.49" font-size="7.8" fill="#222" text-anchor="end" font-weight="normal" font-family="'Liberation Sans','IPAGothic',sans-serif" textLength="13.80" lengthAdjust="spacingAndGlyphs" stroke="#222" stroke-width="0.15" stroke-linejoin="round">201</text>
<text x="177.70" y="355.66" font-size="7.8" fill="#222" text-anchor="middle" font-weight="normal" font-family="'Liberation Sans','IPAGothic',sans-serif" textLength="13.00" lengthAdjust="spacing" stroke="#222" stroke-width="0.15" stroke-linejoin="round">6位</text>
<text x="93.25" y="364.29" font-size="7.8" fill="#222" text-anchor="middle" font-weight="normal" font-family="'Liberation Sans','IPAGothic',sans-serif" textLength="13.80" lengthAdjust="spacingAndGlyphs" stroke="#222" stroke-width="0.15" stroke-linejoin="round">H25</text>
<text x="154.90" y="364.29" font-size="7.8" fill="#222" text-anchor="end" font-weight="normal" font-family="'Liberation Sans','IPAGothic',sans-serif" textLength="13.80" lengthAdjust="spacingAndGlyphs" stroke="#222" stroke-width="0.15" stroke-linejoin="round">211</text>
<text x="177.70" y="364.46" font-size="7.8" fill="#222" text-anchor="middle" font-weight="normal" font-family="'Liberation Sans','IPAGothic',sans-serif" textLength="13.00" lengthAdjust="spacing" stroke="#222" stroke-width="0.15" stroke-linejoin="round">3位</text>
<text x="93.25" y="373.09" font-size="7.8" fill="#222" text-anchor="middle" font-weight="normal" font-family="'Liberation Sans','IPAGothic',sans-serif" textLength="13.80" lengthAdjust="spacingAndGlyphs" stroke="#222" stroke-width="0.15" stroke-linejoin="round">H26</text>
<text x="154.90" y="373.09" font-size="7.8" fill="#222" text-anchor="end" font-weight="normal" font-family="'Liberation Sans','IPAGothic',sans-serif" textLength="13.80" lengthAdjust="spacingAndGlyphs" stroke="#222" stroke-width="0.15" stroke-linejoin="round">209</text>
<text x="177.70" y="373.26" font-size="7.8" fill="#222" text-anchor="middle" font-weight="normal" font-family="'Liberation Sans','IPAGothic',sans-serif" textLength="13.00" lengthAdjust="spacing" stroke="#222" stroke-width="0.15" stroke-linejoin="round">3位</text>
<text x="93.25" y="381.89" font-size="7.8" fill="#222" text-anchor="middle" font-weight="normal" font-family="'Liberation Sans','IPAGothic',sans-serif" textLength="13.80" lengthAdjust="spacingAndGlyphs" stroke="#222" stroke-width="0.15" stroke-linejoin="round">H27</text>
<text x="154.90" y="381.89" font-size="7.8" fill="#222" text-anchor="end" font-weight="normal" font-family="'Liberation Sans','IPAGothic',sans-serif" textLength="13.80" lengthAdjust="spacingAndGlyphs" stroke="#222" stroke-width="0.15" stroke-linejoin="round">215</text>
<text x="177.70" y="382.06" font-size="7.8" fill="#222" text-anchor="middle" font-weight="normal" font-family="'Liberation Sans','IPAGothic',sans-serif" textLength="13.00" lengthAdjust="spacing" stroke="#222" stroke-width="0.15" stroke-linejoin="round">2位</text>
<text x="93.25" y="390.69" font-size="7.8" fill="#222" text-anchor="middle" font-weight="normal" font-family="'Liberation Sans','IPAGothic',sans-serif" textLength="13.80" lengthAdjust="spacingAndGlyphs" stroke="#222" stroke-width="0.15" stroke-linejoin="round">H28</text>
<text x="154.90" y="390.69" font-size="7.8" fill="#222" text-anchor="end" font-weight="normal" font-family="'Liberation Sans','IPAGothic',sans-serif" textLength="13.80" lengthAdjust="spacingAndGlyphs" stroke="#222" stroke-width="0.15" stroke-linejoin="round">189</text>
<text x="177.70" y="390.86" font-size="7.8" fill="#222" text-anchor="middle" font-weight="normal" font-family="'Liberation Sans','IPAGothic',sans-serif" textLength="13.00" lengthAdjust="spacing" stroke="#222" stroke-width="0.15" stroke-linejoin="round">4位</text>
<text x="93.25" y="399.49" font-size="7.8" fill="#222" text-anchor="middle" font-weight="normal" font-family="'Liberation Sans','IPAGothic',sans-serif" textLength="13.80" lengthAdjust="spacingAndGlyphs" stroke="#222" stroke-width="0.15" stroke-linejoin="round">H29</text>
<text x="154.90" y="399.49" font-size="7.8" fill="#222" text-anchor="end" font-weight="normal" font-family="'Liberation Sans','IPAGothic',sans-serif" textLength="13.80" lengthAdjust="spacingAndGlyphs" stroke="#222" stroke-width="0.15" stroke-linejoin="round">178</text>
<text x="177.70" y="399.66" font-size="7.8" fill="#222" text-anchor="middle" font-weight="normal" font-family="'Liberation Sans','IPAGothic',sans-serif" textLength="13.00" lengthAdjust="spacing" stroke="#222" stroke-width="0.15" stroke-linejoin="round">4位</text>
<text x="93.25" y="408.29" font-size="7.8" fill="#222" text-anchor="middle" font-weight="normal" font-family="'Liberation Sans','IPAGothic',sans-serif" textLength="13.80" lengthAdjust="spacingAndGlyphs" stroke="#222" stroke-width="0.15" stroke-linejoin="round">H30</text>
<text x="154.90" y="408.29" font-size="7.8" fill="#222" text-anchor="end" font-weight="normal" font-family="'Liberation Sans','IPAGothic',sans-serif" textLength="13.80" lengthAdjust="spacingAndGlyphs" stroke="#222" stroke-width="0.15" stroke-linejoin="round">192</text>
<text x="177.70" y="408.46" font-size="7.8" fill="#222" text-anchor="middle" font-weight="normal" font-family="'Liberation Sans','IPAGothic',sans-serif" textLength="13.00" lengthAdjust="spacing" stroke="#222" stroke-width="0.15" stroke-linejoin="round">2位</text>
<text x="93.25" y="417.26" font-size="7.8" fill="#222" text-anchor="middle" font-weight="normal" font-family="'Liberation Sans','IPAGothic',sans-serif" textLength="13.00" lengthAdjust="spacingAndGlyphs" stroke="#222" stroke-width="0.15" stroke-linejoin="round">R元</text>
<text x="154.90" y="417.09" font-size="7.8" fill="#222" text-anchor="end" font-weight="normal" font-family="'Liberation Sans','IPAGothic',sans-serif" textLength="13.80" lengthAdjust="spacingAndGlyphs" stroke="#222" stroke-width="0.15" stroke-linejoin="round">164</text>
<text x="177.70" y="417.26" font-size="7.8" fill="#222" text-anchor="middle" font-weight="normal" font-family="'Liberation Sans','IPAGothic',sans-serif" textLength="13.00" lengthAdjust="spacing" stroke="#222" stroke-width="0.15" stroke-linejoin="round">3位</text>
<text x="93.25" y="425.89" font-size="7.8" fill="#222" text-anchor="middle" font-weight="normal" font-family="'Liberation Sans','IPAGothic',sans-serif" textLength="9.20" lengthAdjust="spacingAndGlyphs" stroke="#222" stroke-width="0.15" stroke-linejoin="round">R2</text>
<text x="154.90" y="425.89" font-size="7.8" fill="#222" text-anchor="end" font-weight="normal" font-family="'Liberation Sans','IPAGothic',sans-serif" textLength="13.80" lengthAdjust="spacingAndGlyphs" stroke="#222" stroke-width="0.15" stroke-linejoin="round">133</text>
<text x="177.70" y="426.06" font-size="7.8" fill="#222" text-anchor="middle" font-weight="normal" font-family="'Liberation Sans','IPAGothic',sans-serif" textLength="13.00" lengthAdjust="spacing" stroke="#222" stroke-width="0.15" stroke-linejoin="round">5位</text>
<line x1="317.00" y1="329.50" x2="445.00" y2="329.50" stroke="#333" stroke-width="1.0"/>
<line x1="317.00" y1="338.50" x2="445.00" y2="338.50" stroke="#333" stroke-width="1.0"/>
<line x1="317.00" y1="347.50" x2="445.00" y2="347.50" stroke="#333" stroke-width="1.0"/>
<line x1="317.00" y1="356.50" x2="445.00" y2="356.50" stroke="#333" stroke-width="1.0"/>
<line x1="317.00" y1="365.50" x2="445.00" y2="365.50" stroke="#333" stroke-width="1.0"/>
<line x1="317.00" y1="373.50" x2="445.00" y2="373.50" stroke="#333" stroke-width="1.0"/>
<line x1="317.00" y1="382.50" x2="445.00" y2="382.50" stroke="#333" stroke-width="1.0"/>
<line x1="317.00" y1="391.50" x2="445.00" y2="391.50" stroke="#333" stroke-width="1.0"/>
<line x1="317.00" y1="400.50" x2="445.00" y2="400.50" stroke="#333" stroke-width="1.0"/>
<line x1="317.00" y1="409.50" x2="445.00" y2="409.50" stroke="#333" stroke-width="1.0"/>
<line x1="317.00" y1="417.50" x2="445.00" y2="417.50" stroke="#333" stroke-width="1.0"/>
<line x1="317.00" y1="426.50" x2="445.00" y2="426.50" stroke="#333" stroke-width="1.0"/>
<line x1="317.50" y1="329.50" x2="317.50" y2="426.50" stroke="#333" stroke-width="1.0"/>
<line x1="360.50" y1="329.50" x2="360.50" y2="426.50" stroke="#333" stroke-width="1.0"/>
<line x1="402.50" y1="329.50" x2="402.50" y2="426.50" stroke="#333" stroke-width="1.0"/>
<line x1="444.50" y1="329.50" x2="444.50" y2="426.50" stroke="#333" stroke-width="1.0"/>
<text x="325.17" y="338.24" font-size="8.0" fill="#333" text-anchor="start" font-weight="normal" font-family="'Liberation Sans','IPAGothic',sans-serif" textLength="27.86" lengthAdjust="spacing">（件）</text>
<text x="372.52" y="338.39" font-size="8.4" fill="#333" text-anchor="start" font-weight="normal" font-family="'Liberation Sans','IPAGothic',sans-serif" textLength="17.74" lengthAdjust="spacing">件数</text>
<text x="403.30" y="337.78" font-size="6.8" fill="#333" text-anchor="start" font-weight="normal" font-family="'Liberation Sans','IPAGothic',sans-serif" textLength="40.07" lengthAdjust="spacing">ワースト順位</text>
<text x="339.10" y="346.69" font-size="7.8" fill="#222" text-anchor="middle" font-weight="normal" font-family="'Liberation Sans','IPAGothic',sans-serif" textLength="13.80" lengthAdjust="spacingAndGlyphs" stroke="#222" stroke-width="0.15" stroke-linejoin="round">H23</text>
<text x="400.80" y="346.69" font-size="7.8" fill="#222" text-anchor="end" font-weight="normal" font-family="'Liberation Sans','IPAGothic',sans-serif" textLength="9.20" lengthAdjust="spacingAndGlyphs" stroke="#222" stroke-width="0.15" stroke-linejoin="round">11</text>
<text x="423.30" y="346.86" font-size="7.8" fill="#222" text-anchor="middle" font-weight="normal" font-family="'Liberation Sans','IPAGothic',sans-serif" textLength="13.00" lengthAdjust="spacing" stroke="#222" stroke-width="0.15" stroke-linejoin="round">7位</text>
<text x="339.10" y="355.49" font-size="7.8" fill="#d02020" text-anchor="middle" font-weight="normal" font-family="'Liberation Sans','IPAGothic',sans-serif" textLength="13.80" lengthAdjust="spacingAndGlyphs" stroke="#d02020" stroke-width="0.15" stroke-linejoin="round">H24</text>
<text x="400.80" y="355.49" font-size="7.8" fill="#d02020" text-anchor="end" font-weight="normal" font-family="'Liberation Sans','IPAGothic',sans-serif" textLength="9.20" lengthAdjust="spacingAndGlyphs" stroke="#d02020" stroke-width="0.15" stroke-linejoin="round">17</text>
<text x="423.30" y="355.66" font-size="7.8" fill="#d02020" text-anchor="middle" font-weight="normal" font-family="'Liberation Sans','IPAGothic',sans-serif" textLength="13.00" lengthAdjust="spacing" stroke="#d02020" stroke-width="0.15" stroke-linejoin="round">1位</text>
<text x="339.10" y="364.29" font-size="7.8" fill="#d02020" text-anchor="middle" font-weight="normal" font-family="'Liberation Sans','IPAGothic',sans-serif" textLength="13.80" lengthAdjust="spacingAndGlyphs" stroke="#d02020" stroke-width="0.15" stroke-linejoin="round">H25</text>
<text x="400.80" y="364.29" font-size="7.8" fill="#d02020" text-anchor="end" font-weight="normal" font-family="'Liberation Sans','IPAGothic',sans-serif" textLength="9.20" lengthAdjust="spacingAndGlyphs" stroke="#d02020" stroke-width="0.15" stroke-linejoin="round">17</text>
<text x="423.30" y="364.46" font-size="7.8" fill="#d02020" text-anchor="middle" font-weight="normal" font-family="'Liberation Sans','IPAGothic',sans-serif" textLength="13.00" lengthAdjust="spacing" stroke="#d02020" stroke-width="0.15" stroke-linejoin="round">1位</text>
<text x="339.10" y="373.09" font-size="7.8" fill="#222" text-anchor="middle" font-weight="normal" font-family="'Liberation Sans','IPAGothic',sans-serif" textLength="13.80" lengthAdjust="spacingAndGlyphs" stroke="#222" stroke-width="0.15" stroke-linejoin="round">H26</text>
<text x="400.80" y="373.09" font-size="7.8" fill="#222" text-anchor="end" font-weight="normal" font-family="'Liberation Sans','IPAGothic',sans-serif" textLength="9.20" lengthAdjust="spacingAndGlyphs" stroke="#222" stroke-width="0.15" stroke-linejoin="round">15</text>
<text x="423.30" y="373.26" font-size="7.8" fill="#222" text-anchor="middle" font-weight="normal" font-family="'Liberation Sans','IPAGothic',sans-serif" textLength="13.00" lengthAdjust="spacing" stroke="#222" stroke-width="0.15" stroke-linejoin="round">2位</text>
<text x="339.10" y="381.89" font-size="7.8" fill="#d02020" text-anchor="middle" font-weight="normal" font-family="'Liberation Sans','IPAGothic',sans-serif" textLength="13.80" lengthAdjust="spacingAndGlyphs" stroke="#d02020" stroke-width="0.15" stroke-linejoin="round">H27</text>
<text x="400.80" y="381.89" font-size="7.8" fill="#d02020" text-anchor="end" font-weight="normal" font-family="'Liberation Sans','IPAGothic',sans-serif" textLength="9.20" lengthAdjust="spacingAndGlyphs" stroke="#d02020" stroke-width="0.15" stroke-linejoin="round">16</text>
<text x="423.30" y="382.06" font-size="7.8" fill="#d02020" text-anchor="middle" font-weight="normal" font-family="'Liberation Sans','IPAGothic',sans-serif" textLength="13.00" lengthAdjust="spacing" stroke="#d02020" stroke-width="0.15" stroke-linejoin="round">1位</text>
<text x="339.10" y="390.69" font-size="7.8" fill="#222" text-anchor="middle" font-weight="normal" font-family="'Liberation Sans','IPAGothic',sans-serif" textLength="13.80" lengthAdjust="spacingAndGlyphs" stroke="#222" stroke-width="0.15" stroke-linejoin="round">H28</text>
<text x="400.80" y="390.69" font-size="7.8" fill="#222" text-anchor="end" font-weight="normal" font-family="'Liberation Sans','IPAGothic',sans-serif" textLength="9.20" lengthAdjust="spacingAndGlyphs" stroke="#222" stroke-width="0.15" stroke-linejoin="round">11</text>
<text x="423.30" y="390.86" font-size="7.8" fill="#222" text-anchor="middle" font-weight="normal" font-family="'Liberation Sans','IPAGothic',sans-serif" textLength="13.00" lengthAdjust="spacing" stroke="#222" stroke-width="0.15" stroke-linejoin="round">3位</text>
<text x="339.10" y="399.49" font-size="7.8" fill="#222" text-anchor="middle" font-weight="normal" font-family="'Liberation Sans','IPAGothic',sans-serif" textLength="13.80" lengthAdjust="spacingAndGlyphs" stroke="#222" stroke-width="0.15" stroke-linejoin="round">H29</text>
<text x="400.80" y="399.49" font-size="7.8" fill="#222" text-anchor="end" font-weight="normal" font-family="'Liberation Sans','IPAGothic',sans-serif" textLength="4.60" lengthAdjust="spacingAndGlyphs" stroke="#222" stroke-width="0.15" stroke-linejoin="round">4</text>
<text x="423.30" y="399.66" font-size="7.8" fill="#222" text-anchor="middle" font-weight="normal" font-family="'Liberation Sans','IPAGothic',sans-serif" textLength="17.60" lengthAdjust="spacing" stroke="#222" stroke-width="0.15" stroke-linejoin="round">18位</text>
<text x="339.10" y="408.29" font-size="7.8" fill="#222" text-anchor="middle" font-weight="normal" font-family="'Liberation Sans','IPAGothic',sans-serif" textLength="13.80" lengthAdjust="spacingAndGlyphs" stroke="#222" stroke-width="0.15" stroke-linejoin="round">H30</text>
<text x="400.80" y="408.29" font-size="7.8" fill="#222" text-anchor="end" font-weight="normal" font-family="'Liberation Sans','IPAGothic',sans-serif" textLength="4.60" lengthAdjust="spacingAndGlyphs" stroke="#222" stroke-width="0.15" stroke-linejoin="round">9</text>
<text x="423.30" y="408.46" font-size="7.8" fill="#222" text-anchor="middle" font-weight="normal" font-family="'Liberation Sans','IPAGothic',sans-serif" textLength="13.00" lengthAdjust="spacing" stroke="#222" stroke-width="0.15" stroke-linejoin="round">3位</text>
<text x="339.10" y="417.26" font-size="7.8" fill="#d02020" text-anchor="middle" font-weight="normal" font-family="'Liberation Sans','IPAGothic',sans-serif" textLength="13.00" lengthAdjust="spacingAndGlyphs" stroke="#d02020" stroke-width="0.15" stroke-linejoin="round">R元</text>
<text x="400.80" y="417.09" font-size="7.8" fill="#d02020" text-anchor="end" font-weight="normal" font-family="'Liberation Sans','IPAGothic',sans-serif" textLength="9.20" lengthAdjust="spacingAndGlyphs" stroke="#d02020" stroke-width="0.15" stroke-linejoin="round">13</text>
<text x="423.30" y="417.26" font-size="7.8" fill="#d02020" text-anchor="middle" font-weight="normal" font-family="'Liberation Sans','IPAGothic',sans-serif" textLength="13.00" lengthAdjust="spacing" stroke="#d02020" stroke-width="0.15" stroke-linejoin="round">1位</text>
<text x="339.10" y="425.89" font-size="7.8" fill="#222" text-anchor="middle" font-weight="normal" font-family="'Liberation Sans','IPAGothic',sans-serif" textLength="9.20" lengthAdjust="spacingAndGlyphs" stroke="#222" stroke-width="0.15" stroke-linejoin="round">R2</text>
<text x="400.80" y="425.89" font-size="7.8" fill="#222" text-anchor="end" font-weight="normal" font-family="'Liberation Sans','IPAGothic',sans-serif" textLength="4.60" lengthAdjust="spacingAndGlyphs" stroke="#222" stroke-width="0.15" stroke-linejoin="round">8</text>
<text x="423.30" y="426.06" font-size="7.8" fill="#222" text-anchor="middle" font-weight="normal" font-family="'Liberation Sans','IPAGothic',sans-serif" textLength="13.00" lengthAdjust="spacing" stroke="#222" stroke-width="0.15" stroke-linejoin="round">3位</text>
<polygon points="247.80,323.40 269.60,344.00 284.90,324.20 287.70,349.10 308.30,339.00 300.60,352.80 316.70,355.40 302.70,366.80 309.40,374.10 299.50,378.20 313.10,392.80 292.50,390.50 296.20,409.60 277.50,402.30 275.30,413.60 259.00,403.00 252.40,428.30 245.60,405.10 230.80,418.10 229.10,404.00 209.30,402.30 219.50,392.10 202.50,380.80 223.50,375.10 208.80,361.00 232.50,358.20 222.00,336.70 248.40,347.70" fill="#ff0000" stroke="#1a0000" stroke-width="1.0" stroke-linejoin="miter"/>
<text x="242.19" y="364.29" font-size="7.6" fill="#fff" text-anchor="start" font-weight="900" font-family="'Liberation Sans','Noto Sans CJK JP',sans-serif" textLength="34.80" lengthAdjust="spacing" stroke="#fff" stroke-width="0.1" stroke-linejoin="round" style="font-feature-settings:'palt'">千葉県は</text>
<text x="230.99" y="374.29" font-size="7.6" fill="#fff" text-anchor="start" font-weight="900" font-family="'Liberation Sans','Noto Sans CJK JP',sans-serif" textLength="56.80" lengthAdjust="spacing" stroke="#fff" stroke-width="0.1" stroke-linejoin="round" style="font-feature-settings:'palt'">全国と比較して</text>
<text x="237.49" y="384.99" font-size="7.6" fill="#fff" text-anchor="start" font-weight="900" font-family="'Liberation Sans','Noto Sans CJK JP',sans-serif" textLength="43.70" lengthAdjust="spacing" stroke="#fff" stroke-width="0.1" stroke-linejoin="round" style="font-feature-settings:'palt'">飲酒運転が</text>
<text x="246.39" y="395.29" font-size="7.6" fill="#fff" text-anchor="start" font-weight="900" font-family="'Liberation Sans','Noto Sans CJK JP',sans-serif" textLength="23.60" lengthAdjust="spacing" stroke="#fff" stroke-width="0.1" stroke-linejoin="round" style="font-feature-settings:'palt'">多発！</text>
<rect x="55.40" y="431.60" width="639.20" height="77.80" fill="none" stroke="#000" stroke-width="2"/>
<text x="63.50" y="442.43" font-size="7.7" fill="#1a1a1a" text-anchor="middle" font-weight="normal" font-family="'Liberation Sans','Noto Sans CJK JP',sans-serif">・</text>
<text x="66.38" y="442.43" font-size="7.7" fill="#1a1a1a" text-anchor="start" font-weight="normal" font-family="'Liberation Sans','Noto Sans CJK JP',sans-serif" textLength="614.11" lengthAdjust="spacing" style="font-feature-settings:'palt'">飲酒運転人身事故については、全国的に減少傾向であるものの、千葉県は飲酒事故率が全国平均より高いほか、毎年全国ワースト上位に位置しており、飲酒運転が</text>
<text x="61.68" y="453.03" font-size="7.7" fill="#1a1a1a" text-anchor="start" font-weight="normal" font-family="'Liberation Sans','Noto Sans CJK JP',sans-serif" textLength="60.96" lengthAdjust="spacing" style="font-feature-settings:'palt'">依然として多い。</text>
<text x="63.50" y="463.93" font-size="7.7" fill="#1a1a1a" text-anchor="middle" font-weight="normal" font-family="'Liberation Sans','Noto Sans CJK JP',sans-serif">・</text>
<text x="66.38" y="463.93" font-size="7.7" fill="#1a1a1a" text-anchor="start" font-weight="normal" font-family="'Liberation Sans','Noto Sans CJK JP',sans-serif" textLength="617.91" lengthAdjust="spacing" style="font-feature-settings:'palt'">飲酒運転死亡事故についても全国的に減少傾向であるものの、千葉県は飲酒死亡事故率が全国平均より高いほか、全国ワーストを繰り返すなど、ワースト上位に位置</text>
<text x="61.68" y="474.43" font-size="7.7" fill="#1a1a1a" text-anchor="start" font-weight="normal" font-family="'Liberation Sans','Noto Sans CJK JP',sans-serif" textLength="35.36" lengthAdjust="spacing" style="font-feature-settings:'palt'">している。</text>
<text x="63.50" y="485.23" font-size="7.7" fill="#1a1a1a" text-anchor="middle" font-weight="normal" font-family="'Liberation Sans','Noto Sans CJK JP',sans-serif">・</text>
<text x="66.38" y="485.23" font-size="7.7" fill="#1a1a1a" text-anchor="start" font-weight="normal" font-family="'Liberation Sans','Noto Sans CJK JP',sans-serif" textLength="470.46" lengthAdjust="spacing" style="font-feature-settings:'palt'">飲酒運転の取り締まりを強化していることにより、飲酒運転本犯だけでなく同乗罪といった共犯事件の検挙も年々増加している。</text>
<text x="63.50" y="495.93" font-size="7.7" fill="#1a1a1a" text-anchor="middle" font-weight="normal" font-family="'Liberation Sans','Noto Sans CJK JP',sans-serif">・</text>
<text x="66.38" y="495.93" font-size="7.7" fill="#1a1a1a" text-anchor="start" font-weight="normal" font-family="'Liberation Sans','Noto Sans CJK JP',sans-serif" textLength="613.41" lengthAdjust="spacing" style="font-feature-settings:'palt'">飲酒運転で交通人身事故を起こした場合、交通捜査部門が綿密な捜査を行い、より罰則の厳しい危険運転致死傷罪を適用しており、令和２年は飲酒運転人身事故の</text>
<text x="61.68" y="506.53" font-size="7.7" fill="#1a1a1a" text-anchor="start" font-weight="normal" font-family="'Liberation Sans','Noto Sans CJK JP',sans-serif" textLength="150.16" lengthAdjust="spacing" style="font-feature-settings:'palt'">約半数で危険運転致死傷罪を適用した。</text>
</svg>
</body></html>
